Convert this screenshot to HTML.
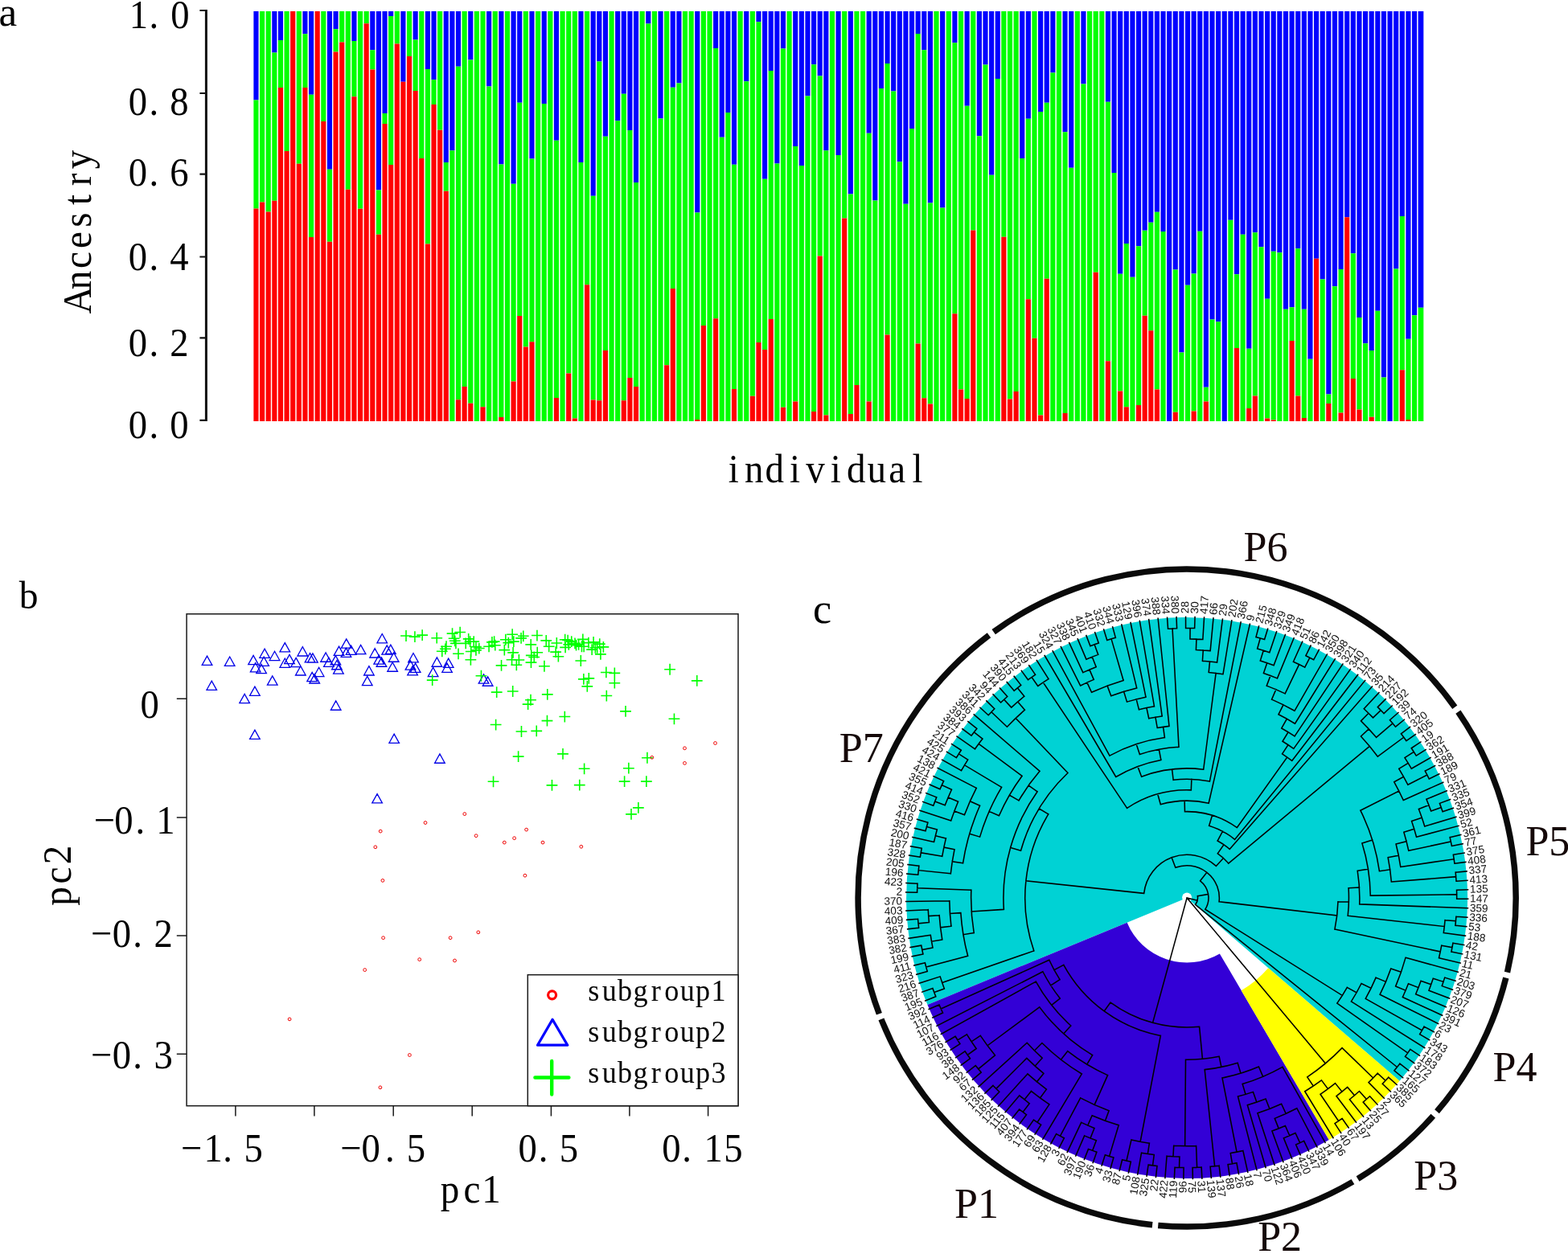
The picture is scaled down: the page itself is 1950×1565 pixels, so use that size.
<!DOCTYPE html>
<html lang="en"><head><meta charset="utf-8"><title>Population structure: ancestry, PCA and phylogenetic tree</title>
<style>html,body{margin:0;padding:0;background:#fff}body{width:1950px;height:1565px;overflow:hidden}svg{display:block}text{white-space:pre}</style></head><body>
<svg xmlns="http://www.w3.org/2000/svg" width="1950" height="1565" viewBox="0 0 1950 1565">
<rect width="1950" height="1565" fill="#fff"/>
<g id="panel-a">
<g shape-rendering="auto">
<path fill="#0000ff" d="M315.4 13.9h6.15V124.42h-6.15zM338.27 13.9h6.15V65.41h-6.15zM345.89 13.9h6.15V50.11h-6.15zM376.38 13.9h6.15V42.31h-6.15zM384 13.9h6.15V117.72h-6.15zM406.86 13.9h6.15V210.74h-6.15zM414.49 13.9h6.15V36.3h-6.15zM437.35 13.9h6.15V50.91h-6.15zM460.22 13.9h6.15V62.21h-6.15zM467.84 13.9h6.15V236.44h-6.15zM475.46 13.9h6.15V141.02h-6.15zM483.08 13.9h6.15V19.9h-6.15zM498.33 13.9h6.15V101.72h-6.15zM513.57 13.9h6.15V49.61h-6.15zM528.82 13.9h6.15V86.11h-6.15zM536.44 13.9h6.15V99.22h-6.15zM551.68 13.9h6.15V201.94h-6.15zM559.3 13.9h6.15V187.23h-6.15zM566.93 13.9h6.15V82.71h-6.15zM582.17 13.9h6.15V74.41h-6.15zM605.04 13.9h6.15V107.42h-6.15zM620.28 13.9h6.15V204.54h-6.15zM635.52 13.9h6.15V228.84h-6.15zM643.15 13.9h6.15V127.72h-6.15zM658.39 13.9h6.15V197.44h-6.15zM673.63 13.9h6.15V128.92h-6.15zM688.88 13.9h6.15V174.63h-6.15zM719.37 13.9h6.15V201.94h-6.15zM734.61 13.9h6.15V243.85h-6.15zM742.23 13.9h6.15V76.51h-6.15zM749.85 13.9h6.15V169.83h-6.15zM765.1 13.9h6.15V150.13h-6.15zM772.72 13.9h6.15V116.82h-6.15zM780.34 13.9h6.15V162.03h-6.15zM787.96 13.9h6.15V226.94h-6.15zM803.21 13.9h6.15V29.4h-6.15zM818.45 13.9h6.15V147.43h-6.15zM833.7 13.9h6.15V108.72h-6.15zM841.32 13.9h6.15V103.62h-6.15zM864.18 13.9h6.15V264.45h-6.15zM887.05 13.9h6.15V59.91h-6.15zM894.67 13.9h6.15V170.83h-6.15zM902.29 13.9h6.15V140.12h-6.15zM909.92 13.9h6.15V204.64h-6.15zM925.16 13.9h6.15V101.32h-6.15zM940.4 13.9h6.15V27.3h-6.15zM948.03 13.9h6.15V222.64h-6.15zM955.65 13.9h6.15V88.01h-6.15zM963.27 13.9h6.15V203.44h-6.15zM970.89 13.9h6.15V60.61h-6.15zM986.14 13.9h6.15V181.93h-6.15zM993.76 13.9h6.15V206.04h-6.15zM1001.38 13.9h6.15V119.62h-6.15zM1009 13.9h6.15V80.31h-6.15zM1016.62 13.9h6.15V94.62h-6.15zM1024.25 13.9h6.15V187.23h-6.15zM1039.49 13.9h6.15V192.94h-6.15zM1054.73 13.9h6.15V241.44h-6.15zM1077.6 13.9h6.15V165.63h-6.15zM1085.22 13.9h6.15V249.55h-6.15zM1092.84 13.9h6.15V109.92h-6.15zM1100.47 13.9h6.15V79.11h-6.15zM1108.09 13.9h6.15V113.42h-6.15zM1115.71 13.9h6.15V201.34h-6.15zM1123.33 13.9h6.15V253.65h-6.15zM1130.95 13.9h6.15V159.93h-6.15zM1138.58 13.9h6.15V42.01h-6.15zM1146.2 13.9h6.15V62.21h-6.15zM1153.82 13.9h6.15V252.45h-6.15zM1169.06 13.9h6.15V258.45h-6.15zM1184.31 13.9h6.15V53.21h-6.15zM1199.55 13.9h6.15V131.72h-6.15zM1214.8 13.9h6.15V169.13h-6.15zM1222.42 13.9h6.15V80.41h-6.15zM1230.04 13.9h6.15V217.74h-6.15zM1237.66 13.9h6.15V97.92h-6.15zM1268.15 13.9h6.15V196.94h-6.15zM1275.77 13.9h6.15V147.73h-6.15zM1291.02 13.9h6.15V138.92h-6.15zM1298.64 13.9h6.15V127.72h-6.15zM1306.26 13.9h6.15V90.42h-6.15zM1321.5 13.9h6.15V164.33h-6.15zM1329.13 13.9h6.15V208.84h-6.15zM1344.37 13.9h6.15V104.62h-6.15zM1374.86 13.9h6.15V126.72h-6.15zM1382.48 13.9h6.15V215.04h-6.15zM1390.1 13.9h6.15V340.86h-6.15zM1397.72 13.9h6.15V303.06h-6.15zM1405.35 13.9h6.15V344.66h-6.15zM1412.97 13.9h6.15V306.36h-6.15zM1420.59 13.9h6.15V286.85h-6.15zM1428.21 13.9h6.15V276.85h-6.15zM1435.83 13.9h6.15V263.75h-6.15zM1443.46 13.9h6.15V288.05h-6.15zM1451.08 13.9h6.15V524h-6.15zM1458.7 13.9h6.15V335.46h-6.15zM1466.32 13.9h6.15V438.48h-6.15zM1473.94 13.9h6.15V354.87h-6.15zM1481.57 13.9h6.15V340.46h-6.15zM1489.19 13.9h6.15V287.75h-6.15zM1496.81 13.9h6.15V481.79h-6.15zM1504.43 13.9h6.15V397.48h-6.15zM1512.05 13.9h6.15V400.18h-6.15zM1519.68 13.9h6.15V524h-6.15zM1527.3 13.9h6.15V273.75h-6.15zM1534.92 13.9h6.15V341.16h-6.15zM1542.54 13.9h6.15V291.85h-6.15zM1550.16 13.9h6.15V433.68h-6.15zM1557.79 13.9h6.15V289.25h-6.15zM1565.41 13.9h6.15V307.26h-6.15zM1573.03 13.9h6.15V371.77h-6.15zM1580.65 13.9h6.15V312.76h-6.15zM1588.27 13.9h6.15V314.16h-6.15zM1595.9 13.9h6.15V384.67h-6.15zM1603.52 13.9h6.15V382.27h-6.15zM1611.14 13.9h6.15V309.16h-6.15zM1618.76 13.9h6.15V384.67h-6.15zM1626.38 13.9h6.15V446.78h-6.15zM1634.01 13.9h6.15V321.86h-6.15zM1641.63 13.9h6.15V347.57h-6.15zM1649.25 13.9h6.15V490.39h-6.15zM1656.87 13.9h6.15V356.37h-6.15zM1664.49 13.9h6.15V334.96h-6.15zM1672.12 13.9h6.15V270.25h-6.15zM1679.74 13.9h6.15V315.16h-6.15zM1687.36 13.9h6.15V394.97h-6.15zM1694.98 13.9h6.15V427.28h-6.15zM1702.6 13.9h6.15V435.88h-6.15zM1710.23 13.9h6.15V386.77h-6.15zM1717.85 13.9h6.15V469.59h-6.15zM1725.47 13.9h6.15V524h-6.15zM1733.09 13.9h6.15V334.46h-6.15zM1740.71 13.9h6.15V268.95h-6.15zM1748.34 13.9h6.15V421.78h-6.15zM1755.96 13.9h6.15V392.27h-6.15zM1763.58 13.9h6.75V382.77h-6.75z"/>
<path fill="#00ff00" d="M315.4 124.42h6.15V259.55h-6.15zM323.02 13.9h6.15V251.45h-6.15zM330.64 13.9h6.15V263.55h-6.15zM338.27 65.41h6.15V249.65h-6.15zM345.89 50.11h6.15V108.92h-6.15zM353.51 13.9h6.15V187.93h-6.15zM368.75 13.9h6.15V203.64h-6.15zM376.38 42.31h6.15V108.92h-6.15zM384 117.72h6.15V294.96h-6.15zM399.24 13.9h6.15V151.03h-6.15zM406.86 210.74h6.15V300.66h-6.15zM414.49 36.3h6.15V64.41h-6.15zM422.11 13.9h6.15V52.51h-6.15zM429.73 13.9h6.15V235.74h-6.15zM437.35 50.91h6.15V120.32h-6.15zM444.97 13.9h6.15V259.65h-6.15zM452.6 13.9h6.15V29.2h-6.15zM460.22 62.21h6.15V86.51h-6.15zM467.84 236.44h6.15V291.65h-6.15zM475.46 141.02h6.15V153.93h-6.15zM483.08 19.9h6.15V204.94h-6.15zM490.71 13.9h6.15V54.41h-6.15zM505.95 13.9h6.15V70.11h-6.15zM513.57 49.61h6.15V113.02h-6.15zM521.19 13.9h6.15V196.94h-6.15zM528.82 86.11h6.15V303.46h-6.15zM536.44 99.22h6.15V130.12h-6.15zM544.06 13.9h6.15V161.73h-6.15zM551.68 201.94h6.15V237.74h-6.15zM559.3 187.23h6.15V524h-6.15zM566.93 82.71h6.15V497.19h-6.15zM574.55 13.9h6.15V480.89h-6.15zM582.17 74.41h6.15V501.8h-6.15zM589.79 13.9h6.15V524h-6.15zM597.41 13.9h6.15V506.3h-6.15zM605.04 107.42h6.15V524h-6.15zM612.66 13.9h6.15V524h-6.15zM620.28 204.54h6.15V519h-6.15zM627.9 13.9h6.15V524h-6.15zM635.52 228.84h6.15V474.39h-6.15zM643.15 127.72h6.15V392.97h-6.15zM650.77 13.9h6.15V431.58h-6.15zM658.39 197.44h6.15V425.18h-6.15zM666.01 13.9h6.15V524h-6.15zM673.63 128.92h6.15V524h-6.15zM681.26 13.9h6.15V524h-6.15zM688.88 174.63h6.15V494.89h-6.15zM696.5 13.9h6.15V524h-6.15zM704.12 13.9h6.15V464.59h-6.15zM711.74 13.9h6.15V520.6h-6.15zM719.37 201.94h6.15V524h-6.15zM726.99 13.9h6.15V354.17h-6.15zM734.61 243.85h6.15V497.49h-6.15zM742.23 76.51h6.15V498.19h-6.15zM749.85 169.83h6.15V436.08h-6.15zM757.48 13.9h6.15V524h-6.15zM765.1 150.13h6.15V524h-6.15zM772.72 116.82h6.15V498.19h-6.15zM780.34 162.03h6.15V469.89h-6.15zM787.96 226.94h6.15V480.89h-6.15zM795.59 13.9h6.15V524h-6.15zM803.21 29.4h6.15V524h-6.15zM810.83 13.9h6.15V524h-6.15zM818.45 147.43h6.15V524h-6.15zM826.07 13.9h6.15V454.19h-6.15zM833.7 108.72h6.15V358.97h-6.15zM841.32 103.62h6.15V524h-6.15zM848.94 13.9h6.15V524h-6.15zM856.56 13.9h6.15V524h-6.15zM864.18 264.45h6.15V522h-6.15zM871.81 13.9h6.15V404.88h-6.15zM879.43 13.9h6.15V524h-6.15zM887.05 59.91h6.15V396.27h-6.15zM894.67 170.83h6.15V524h-6.15zM902.29 140.12h6.15V524h-6.15zM909.92 204.64h6.15V483.89h-6.15zM917.54 13.9h6.15V524h-6.15zM925.16 101.32h6.15V524h-6.15zM932.78 13.9h6.15V492.69h-6.15zM940.4 27.3h6.15V426.08h-6.15zM948.03 222.64h6.15V434.88h-6.15zM955.65 88.01h6.15V397.08h-6.15zM963.27 203.44h6.15V524h-6.15zM970.89 60.61h6.15V506.8h-6.15zM978.51 13.9h6.15V524h-6.15zM986.14 181.93h6.15V499.4h-6.15zM993.76 206.04h6.15V524h-6.15zM1001.38 119.62h6.15V524h-6.15zM1009 80.31h6.15V512h-6.15zM1016.62 94.62h6.15V318.56h-6.15zM1024.25 187.23h6.15V516.6h-6.15zM1031.87 13.9h6.15V524h-6.15zM1039.49 192.94h6.15V524h-6.15zM1047.11 13.9h6.15V271.55h-6.15zM1054.73 241.44h6.15V514.9h-6.15zM1062.36 13.9h6.15V478.89h-6.15zM1069.98 13.9h6.15V524h-6.15zM1077.6 165.63h6.15V499.4h-6.15zM1085.22 249.55h6.15V524h-6.15zM1092.84 109.92h6.15V524h-6.15zM1100.47 79.11h6.15V416.38h-6.15zM1108.09 113.42h6.15V524h-6.15zM1115.71 201.34h6.15V524h-6.15zM1123.33 253.65h6.15V524h-6.15zM1130.95 159.93h6.15V524h-6.15zM1138.58 42.01h6.15V427.58h-6.15zM1146.2 62.21h6.15V495.29h-6.15zM1153.82 252.45h6.15V502.5h-6.15zM1161.44 13.9h6.15V524h-6.15zM1169.06 258.45h6.15V524h-6.15zM1176.69 13.9h6.15V524h-6.15zM1184.31 53.21h6.15V390.17h-6.15zM1191.93 13.9h6.15V484.59h-6.15zM1199.55 131.72h6.15V496.09h-6.15zM1207.17 13.9h6.15V286.55h-6.15zM1214.8 169.13h6.15V524h-6.15zM1222.42 80.41h6.15V524h-6.15zM1230.04 217.74h6.15V524h-6.15zM1237.66 97.92h6.15V524h-6.15zM1245.28 13.9h6.15V294.76h-6.15zM1252.91 13.9h6.15V496.49h-6.15zM1260.53 13.9h6.15V487.09h-6.15zM1268.15 196.94h6.15V524h-6.15zM1275.77 147.73h6.15V372.27h-6.15zM1283.39 13.9h6.15V420.68h-6.15zM1291.02 138.92h6.15V516.6h-6.15zM1298.64 127.72h6.15V346.87h-6.15zM1306.26 90.42h6.15V524h-6.15zM1313.88 13.9h6.15V524h-6.15zM1321.5 164.33h6.15V514h-6.15zM1329.13 208.84h6.15V524h-6.15zM1336.75 13.9h6.15V524h-6.15zM1344.37 104.62h6.15V524h-6.15zM1351.99 13.9h6.15V524h-6.15zM1359.61 13.9h6.15V338.76h-6.15zM1367.24 13.9h6.15V524h-6.15zM1374.86 126.72h6.15V449.19h-6.15zM1382.48 215.04h6.15V524h-6.15zM1390.1 340.86h6.15V486.59h-6.15zM1397.72 303.06h6.15V506.3h-6.15zM1405.35 344.66h6.15V524h-6.15zM1412.97 306.36h6.15V504h-6.15zM1420.59 286.85h6.15V392.77h-6.15zM1428.21 276.85h6.15V411.28h-6.15zM1435.83 263.75h6.15V484.39h-6.15zM1443.46 288.05h6.15V524h-6.15zM1458.7 335.46h6.15V512.8h-6.15zM1466.32 438.48h6.15V524h-6.15zM1473.94 354.87h6.15V524h-6.15zM1481.57 340.46h6.15V511.5h-6.15zM1489.19 287.75h6.15V524h-6.15zM1496.81 481.79h6.15V499.6h-6.15zM1504.43 397.48h6.15V524h-6.15zM1512.05 400.18h6.15V524h-6.15zM1527.3 273.75h6.15V524h-6.15zM1534.92 341.16h6.15V432.98h-6.15zM1542.54 291.85h6.15V524h-6.15zM1550.16 433.68h6.15V508h-6.15zM1557.79 289.25h6.15V492.49h-6.15zM1565.41 307.26h6.15V524h-6.15zM1573.03 371.77h6.15V520.4h-6.15zM1580.65 312.76h6.15V522.5h-6.15zM1588.27 314.16h6.15V524h-6.15zM1595.9 384.67h6.15V524h-6.15zM1603.52 382.27h6.15V423.98h-6.15zM1611.14 309.16h6.15V492.49h-6.15zM1618.76 384.67h6.15V520h-6.15zM1626.38 446.78h6.15V524h-6.15zM1641.63 347.57h6.15V524h-6.15zM1649.25 490.39h6.15V502h-6.15zM1656.87 356.37h6.15V524h-6.15zM1664.49 334.96h6.15V513.5h-6.15zM1679.74 315.16h6.15V471.09h-6.15zM1687.36 394.97h6.15V509.4h-6.15zM1694.98 427.28h6.15V524h-6.15zM1702.6 435.88h6.15V518.7h-6.15zM1710.23 386.77h6.15V524h-6.15zM1717.85 469.59h6.15V524h-6.15zM1733.09 334.46h6.15V524h-6.15zM1740.71 268.95h6.15V460.19h-6.15zM1748.34 421.78h6.15V522h-6.15zM1755.96 392.27h6.15V524h-6.15zM1763.58 382.77h6.75V524h-6.75z"/>
<path fill="#ff0000" d="M315.4 259.55h6.15V524h-6.15zM323.02 251.45h6.15V524h-6.15zM330.64 263.55h6.15V524h-6.15zM338.27 249.65h6.15V524h-6.15zM345.89 108.92h6.15V524h-6.15zM353.51 187.93h6.15V524h-6.15zM361.13 13.9h6.15V524h-6.15zM368.75 203.64h6.15V524h-6.15zM376.38 108.92h6.15V524h-6.15zM384 294.96h6.15V524h-6.15zM391.62 13.9h6.15V524h-6.15zM399.24 151.03h6.15V524h-6.15zM406.86 300.66h6.15V524h-6.15zM414.49 64.41h6.15V524h-6.15zM422.11 52.51h6.15V524h-6.15zM429.73 235.74h6.15V524h-6.15zM437.35 120.32h6.15V524h-6.15zM444.97 259.65h6.15V524h-6.15zM452.6 29.2h6.15V524h-6.15zM460.22 86.51h6.15V524h-6.15zM467.84 291.65h6.15V524h-6.15zM475.46 153.93h6.15V524h-6.15zM483.08 204.94h6.15V524h-6.15zM490.71 54.41h6.15V524h-6.15zM498.33 101.72h6.15V524h-6.15zM505.95 70.11h6.15V524h-6.15zM513.57 113.02h6.15V524h-6.15zM521.19 196.94h6.15V524h-6.15zM528.82 303.46h6.15V524h-6.15zM536.44 130.12h6.15V524h-6.15zM544.06 161.73h6.15V524h-6.15zM551.68 237.74h6.15V524h-6.15zM566.93 497.19h6.15V524h-6.15zM574.55 480.89h6.15V524h-6.15zM582.17 501.8h6.15V524h-6.15zM597.41 506.3h6.15V524h-6.15zM620.28 519h6.15V524h-6.15zM635.52 474.39h6.15V524h-6.15zM643.15 392.97h6.15V524h-6.15zM650.77 431.58h6.15V524h-6.15zM658.39 425.18h6.15V524h-6.15zM688.88 494.89h6.15V524h-6.15zM704.12 464.59h6.15V524h-6.15zM711.74 520.6h6.15V524h-6.15zM726.99 354.17h6.15V524h-6.15zM734.61 497.49h6.15V524h-6.15zM742.23 498.19h6.15V524h-6.15zM749.85 436.08h6.15V524h-6.15zM772.72 498.19h6.15V524h-6.15zM780.34 469.89h6.15V524h-6.15zM787.96 480.89h6.15V524h-6.15zM826.07 454.19h6.15V524h-6.15zM833.7 358.97h6.15V524h-6.15zM864.18 522h6.15V524h-6.15zM871.81 404.88h6.15V524h-6.15zM887.05 396.27h6.15V524h-6.15zM909.92 483.89h6.15V524h-6.15zM932.78 492.69h6.15V524h-6.15zM940.4 426.08h6.15V524h-6.15zM948.03 434.88h6.15V524h-6.15zM955.65 397.08h6.15V524h-6.15zM970.89 506.8h6.15V524h-6.15zM986.14 499.4h6.15V524h-6.15zM1009 512h6.15V524h-6.15zM1016.62 318.56h6.15V524h-6.15zM1024.25 516.6h6.15V524h-6.15zM1047.11 271.55h6.15V524h-6.15zM1054.73 514.9h6.15V524h-6.15zM1062.36 478.89h6.15V524h-6.15zM1077.6 499.4h6.15V524h-6.15zM1100.47 416.38h6.15V524h-6.15zM1138.58 427.58h6.15V524h-6.15zM1146.2 495.29h6.15V524h-6.15zM1153.82 502.5h6.15V524h-6.15zM1184.31 390.17h6.15V524h-6.15zM1191.93 484.59h6.15V524h-6.15zM1199.55 496.09h6.15V524h-6.15zM1207.17 286.55h6.15V524h-6.15zM1245.28 294.76h6.15V524h-6.15zM1252.91 496.49h6.15V524h-6.15zM1260.53 487.09h6.15V524h-6.15zM1275.77 372.27h6.15V524h-6.15zM1283.39 420.68h6.15V524h-6.15zM1291.02 516.6h6.15V524h-6.15zM1298.64 346.87h6.15V524h-6.15zM1321.5 514h6.15V524h-6.15zM1359.61 338.76h6.15V524h-6.15zM1374.86 449.19h6.15V524h-6.15zM1390.1 486.59h6.15V524h-6.15zM1397.72 506.3h6.15V524h-6.15zM1412.97 504h6.15V524h-6.15zM1420.59 392.77h6.15V524h-6.15zM1428.21 411.28h6.15V524h-6.15zM1435.83 484.39h6.15V524h-6.15zM1458.7 512.8h6.15V524h-6.15zM1481.57 511.5h6.15V524h-6.15zM1496.81 499.6h6.15V524h-6.15zM1534.92 432.98h6.15V524h-6.15zM1550.16 508h6.15V524h-6.15zM1557.79 492.49h6.15V524h-6.15zM1573.03 520.4h6.15V524h-6.15zM1580.65 522.5h6.15V524h-6.15zM1603.52 423.98h6.15V524h-6.15zM1611.14 492.49h6.15V524h-6.15zM1618.76 520h6.15V524h-6.15zM1634.01 321.86h6.15V524h-6.15zM1649.25 502h6.15V524h-6.15zM1664.49 513.5h6.15V524h-6.15zM1672.12 270.25h6.15V524h-6.15zM1679.74 471.09h6.15V524h-6.15zM1687.36 509.4h6.15V524h-6.15zM1702.6 518.7h6.15V524h-6.15zM1740.71 460.19h6.15V524h-6.15zM1748.34 522h6.15V524h-6.15z"/>
</g>
<path d="M256.4 12V523.9" stroke="#111" stroke-width="3" fill="none"/>
<path d="M248.4 13H257M248.4 116H257M248.4 216.7H257M248.4 319.5H257M248.4 420.3H257M248.4 522.9H257" stroke="#111" stroke-width="2.2" fill="none"/>
<text transform="scale(0.9250 1)" x="186.49 206.81 242.16" y="35.4" font-family="'Liberation Serif','Noto Serif CJK SC',serif" font-size="50.5" text-anchor="middle" fill="#000" >1.0</text>
<text transform="scale(0.9250 1)" x="185.41 206.81 241.08" y="143.4" font-family="'Liberation Serif','Noto Serif CJK SC',serif" font-size="50.5" text-anchor="middle" fill="#000" >0.8</text>
<text transform="scale(0.9250 1)" x="185.41 206.81 241.08" y="231.5" font-family="'Liberation Serif','Noto Serif CJK SC',serif" font-size="50.5" text-anchor="middle" fill="#000" >0.6</text>
<text transform="scale(0.9250 1)" x="185.41 206.81 241.08" y="335.8" font-family="'Liberation Serif','Noto Serif CJK SC',serif" font-size="50.5" text-anchor="middle" fill="#000" >0.4</text>
<text transform="scale(0.9250 1)" x="185.41 206.81 241.08" y="443.2" font-family="'Liberation Serif','Noto Serif CJK SC',serif" font-size="50.5" text-anchor="middle" fill="#000" >0.2</text>
<text transform="scale(0.9250 1)" x="185.41 206.81 241.08" y="544.6" font-family="'Liberation Serif','Noto Serif CJK SC',serif" font-size="50.5" text-anchor="middle" fill="#000" >0.0</text>
<text transform="rotate(-90) scale(0.9400 1)" x="-397.34 -370.74 -344.15 -317.55 -290.96 -264.36 -237.77 -211.17" y="113.2" font-family="'Liberation Serif','Noto Serif CJK SC',serif" font-size="50" text-anchor="middle" fill="#000">Ancestry</text>
<text transform="scale(0.9400 1)" x="970.53 997.57 1024.62 1051.66 1078.7 1105.74 1132.79 1159.83 1186.87 1213.91" y="600.2" font-family="'Liberation Serif','Noto Serif CJK SC',serif" font-size="50" text-anchor="middle" fill="#000" >individual</text>
<text x="-1.5" y="32.2" font-family="'Liberation Serif','Noto Serif CJK SC',serif" font-size="51" fill="#000">a</text>
</g>
<g id="panel-b">
<rect x="232.1" y="763.8" width="685.9" height="611.9" fill="none" stroke="#1a1a1a" stroke-width="1.5"/>
<path d="M219.8 869.2H232.1M219.8 1016.9H232.1M219.8 1164H232.1M219.8 1311.2H232.1M292.9 1375.7V1388.6M390.9 1375.7V1388.6M489.2 1375.7V1388.6M587.2 1375.7V1388.6M685.4 1375.7V1388.6M782.9 1375.7V1388.6M880.6 1375.7V1388.6" stroke="#1a1a1a" stroke-width="1.5" fill="none"/>
<text transform="scale(0.9250 1)" x="201.3" y="893.2" font-family="'Liberation Serif','Noto Serif CJK SC',serif" font-size="50.5" text-anchor="middle" fill="#000" >0</text>
<text transform="scale(0.9250 1)" x="140.43 166.27 188.43 222.7" y="1037.2" font-family="'Liberation Serif','Noto Serif CJK SC',serif" font-size="50.5" text-anchor="middle" fill="#000" >−0.1</text>
<text transform="scale(0.9250 1)" x="136.43 163.68 184.86 219.57" y="1178.4" font-family="'Liberation Serif','Noto Serif CJK SC',serif" font-size="50.5" text-anchor="middle" fill="#000" >−0.2</text>
<text transform="scale(0.9250 1)" x="136.43 163.68 184.86 219.57" y="1328.6" font-family="'Liberation Serif','Noto Serif CJK SC',serif" font-size="50.5" text-anchor="middle" fill="#000" >−0.3</text>
<text transform="scale(0.9250 1)" x="257.51 286.7 305.95 340.65" y="1444.6" font-family="'Liberation Serif','Noto Serif CJK SC',serif" font-size="50.5" text-anchor="middle" fill="#000" >−1.5</text>
<text transform="scale(0.9250 1)" x="471.89 498.59 524.11 559.35" y="1444.6" font-family="'Liberation Serif','Noto Serif CJK SC',serif" font-size="50.5" text-anchor="middle" fill="#000" >−0.5</text>
<text transform="scale(0.9250 1)" x="709.3 730.27 764.86" y="1444.6" font-family="'Liberation Serif','Noto Serif CJK SC',serif" font-size="50.5" text-anchor="middle" fill="#000" >0.5</text>
<text transform="scale(0.9250 1)" x="902.7 923.24 959.14 985.84" y="1444.6" font-family="'Liberation Serif','Noto Serif CJK SC',serif" font-size="50.5" text-anchor="middle" fill="#000" >0.15</text>
<text transform="scale(0.9400 1)" x="595.32 624.36 650" y="1496.3" font-family="'Liberation Serif','Noto Serif CJK SC',serif" font-size="50" text-anchor="middle" fill="#000" >pc1</text>
<text transform="rotate(-90) scale(0.9400 1)" x="-1186.17 -1158.51 -1131.49" y="88.1" font-family="'Liberation Serif','Noto Serif CJK SC',serif" font-size="50" text-anchor="middle" fill="#000">pc2</text>
<text x="23.8" y="757.0" font-family="'Liberation Serif','Noto Serif CJK SC',serif" font-size="47.5" fill="#000">b</text>
<path d="M251.24 827.38L257.54 816.08L263.84 827.38zM279.39 828.31L285.69 817.01L291.99 828.31zM256.93 858.46L263.23 847.16L269.53 858.46zM308.78 826.62L315.08 815.32L321.38 826.62zM311.39 835.85L317.69 824.55L323.99 835.85zM318.78 837.69L325.08 826.39L331.38 837.69zM322.78 818.46L329.08 807.16L335.38 818.46zM321.85 828.46L328.15 817.16L334.45 828.46zM335.24 821.54L341.54 810.24L347.84 821.54zM348.01 810.92L354.31 799.62L360.61 810.92zM348.01 830.31L354.31 819.01L360.61 830.31zM353.7 825.69L360 814.39L366.3 825.69zM361.85 829.69L368.15 818.39L374.45 829.69zM370.01 816L376.31 804.7L382.61 816zM367.55 840L373.85 828.7L380.15 840zM379.24 823.85L385.54 812.55L391.84 823.85zM382.62 824.15L388.92 812.85L395.22 824.15zM332.47 852.15L338.77 840.85L345.07 852.15zM310.62 865.38L316.92 854.08L323.22 865.38zM297.85 874.62L304.15 863.32L310.45 874.62zM381.85 847.69L388.15 836.39L394.45 847.69zM384.93 850L391.23 838.7L397.53 850zM390.32 841.54L396.62 830.24L402.92 841.54zM398.78 823.23L405.08 811.93L411.38 823.23zM402.62 829.38L408.92 818.08L415.22 829.38zM411.08 826.92L417.38 815.62L423.68 826.92zM412.62 832.77L418.92 821.47L425.22 832.77zM414.62 838.15L420.92 826.85L427.22 838.15zM415.24 815.38L421.54 804.08L427.84 815.38zM424.47 806.15L430.77 794.85L437.07 806.15zM424.16 817.38L430.46 806.08L436.76 817.38zM430.32 814.31L436.62 803.01L442.92 814.31zM442.32 813.69L448.62 802.39L454.92 813.69zM411.39 883.23L417.69 871.93L423.99 883.23zM459.85 818L466.15 806.7L472.45 818zM468.93 799.85L475.23 788.55L481.53 799.85zM464.93 826.15L471.23 814.85L477.53 826.15zM468.16 829.23L474.46 817.93L480.76 829.23zM474.93 814.15L481.23 802.85L487.53 814.15zM479.55 813.38L485.85 802.08L492.15 813.38zM483.39 823.23L489.69 811.93L495.99 823.23zM481.85 835.23L488.15 823.93L494.45 835.23zM452.62 840L458.92 828.7L465.22 840zM450.47 852.62L456.77 841.32L463.07 852.62zM507.7 823.85L514 812.55L520.3 823.85zM504.16 833.08L510.46 821.78L516.76 833.08zM510.32 836.46L516.62 825.16L522.92 836.46zM506.78 839.85L513.08 828.55L519.38 839.85zM310.62 919.38L316.92 908.08L323.22 919.38zM483.85 924.46L490.15 913.16L496.45 924.46zM462.78 998.92L469.08 987.62L475.38 998.92zM537.08 829.23L543.38 817.93L549.68 829.23zM551.39 830.46L557.69 819.16L563.99 830.46zM549.7 836.46L556 825.16L562.3 836.46zM532.32 841.69L538.62 830.39L544.92 841.69zM595.24 850.15L601.54 838.85L607.84 850.15zM600.32 853.23L606.62 841.93L612.92 853.23zM540.62 949.23L546.92 937.93L553.22 949.23z" fill="none" stroke="#0000e6" stroke-width="1.3" stroke-linejoin="miter"/>
<path d="M578.48 820.77h13.8M585.38 813.87v13.8M530.79 846.15h13.8M537.69 839.25v13.8M591.56 840.77h13.8M598.46 833.87v13.8M616.64 827.85h13.8M623.54 820.95v13.8M635.41 827.23h13.8M642.31 820.33v13.8M653.56 824.15h13.8M660.46 817.25v13.8M670.02 828.77h13.8M676.92 821.87v13.8M715.41 822h13.8M722.31 815.1v13.8M746.95 836.46h13.8M753.85 829.56v13.8M757.41 837.38h13.8M764.31 830.48v13.8M718.95 844.92h13.8M725.85 838.02v13.8M725.41 843.85h13.8M732.31 836.95v13.8M723.41 853.85h13.8M730.31 846.95v13.8M757.41 849.69h13.8M764.31 842.79v13.8M747.41 865.54h13.8M754.31 858.64v13.8M610.79 861.08h13.8M617.69 854.18v13.8M630.79 860h13.8M637.69 853.1v13.8M673.87 863.85h13.8M680.77 856.95v13.8M653.1 870.77h13.8M660 863.87v13.8M649.72 876.15h13.8M656.62 869.25v13.8M771.1 884.92h13.8M778 878.02v13.8M695.41 891.54h13.8M702.31 884.64v13.8M673.56 896.62h13.8M680.46 889.72v13.8M609.72 901.54h13.8M616.62 894.64v13.8M641.56 910h13.8M648.46 903.1v13.8M660.33 909.38h13.8M667.23 902.48v13.8M637.72 941.08h13.8M644.62 934.18v13.8M693.1 937.85h13.8M700 930.95v13.8M719.72 956.31h13.8M726.62 949.41v13.8M774.95 955.69h13.8M781.85 948.79v13.8M606.64 972.31h13.8M613.54 965.41v13.8M679.56 976.92h13.8M686.46 970.02v13.8M713.87 976.62h13.8M720.77 969.72v13.8M769.72 972.15h13.8M776.62 965.25v13.8M498.1 791h13.8M505 784.1v13.8M509.02 792.08h13.8M515.92 785.18v13.8M518.25 790.15h13.8M525.15 783.25v13.8M536.33 793.69h13.8M543.23 786.79v13.8M555.64 788.08h13.8M562.54 781.18v13.8M565.25 786.54h13.8M572.15 779.64v13.8M557.72 794.23h13.8M564.62 787.33v13.8M558.87 797.31h13.8M565.77 790.41v13.8M560.02 800.38h13.8M566.92 793.48v13.8M548.1 804.23h13.8M555 797.33v13.8M546.95 807.31h13.8M553.85 800.41v13.8M542.87 810.23h13.8M549.77 803.33v13.8M575.79 794.85h13.8M582.69 787.95v13.8M577.72 798.08h13.8M584.62 791.18v13.8M572.33 800.38h13.8M579.23 793.48v13.8M582.33 798.08h13.8M589.23 791.18v13.8M585.02 804.62h13.8M591.92 797.72v13.8M588.87 806.54h13.8M595.77 799.64v13.8M563.1 813.31h13.8M570 806.41v13.8M578.87 810.54h13.8M585.77 803.64v13.8M585.02 808.85h13.8M591.92 801.95v13.8M601.18 804.23h13.8M608.08 797.33v13.8M605.02 798.85h13.8M611.92 791.95v13.8M607.72 798.08h13.8M614.62 791.18v13.8M608.87 802.69h13.8M615.77 795.79v13.8M620.41 808.62h13.8M627.31 801.72v13.8M621.95 795.77h13.8M628.85 788.87v13.8M625.41 799.62h13.8M632.31 792.72v13.8M630.25 789.23h13.8M637.15 782.33v13.8M631.95 798.08h13.8M638.85 791.18v13.8M631.18 811.92h13.8M638.08 805.02v13.8M629.64 820.77h13.8M636.54 813.87v13.8M641.18 793.85h13.8M648.08 786.95v13.8M643.87 791.31h13.8M650.77 784.41v13.8M661.02 790.54h13.8M667.92 783.64v13.8M653.33 801.92h13.8M660.23 795.02v13.8M672.33 796.92h13.8M679.23 790.02v13.8M675.79 804.23h13.8M682.69 797.33v13.8M685.41 800h13.8M692.31 793.1v13.8M684.25 811.15h13.8M691.15 804.25v13.8M687.48 816.69h13.8M694.38 809.79v13.8M638.48 821h13.8M645.38 814.1v13.8M653.87 815.38h13.8M660.77 808.48v13.8M657.33 817.46h13.8M664.23 810.56v13.8M661.33 811.77h13.8M668.23 804.87v13.8M695.79 795.77h13.8M702.69 788.87v13.8M699.25 796.54h13.8M706.15 789.64v13.8M696.18 805.38h13.8M703.08 798.48v13.8M700.41 801.92h13.8M707.31 795.02v13.8M703.87 798.08h13.8M710.77 791.18v13.8M708.1 800.38h13.8M715 793.48v13.8M709.64 802.69h13.8M716.54 795.79v13.8M712.72 801.92h13.8M719.62 795.02v13.8M716.56 804.23h13.8M723.46 797.33v13.8M717.95 795.38h13.8M724.85 788.48v13.8M719.25 804.23h13.8M726.15 797.33v13.8M725.02 799.62h13.8M731.92 792.72v13.8M729.25 808.08h13.8M736.15 801.18v13.8M731.18 798.85h13.8M738.08 791.95v13.8M733.48 805.77h13.8M740.38 798.87v13.8M735.79 805.77h13.8M742.69 798.87v13.8M738.87 801.15h13.8M745.77 794.25v13.8M740.02 813.85h13.8M746.92 806.95v13.8M743.48 804.85h13.8M750.38 797.95v13.8M826.18 832.77h13.8M833.08 825.87v13.8M859.87 846.92h13.8M866.77 840.02v13.8M831.56 894.31h13.8M838.46 887.41v13.8M798.02 942.77h13.8M804.92 935.87v13.8M796.95 972.15h13.8M803.85 965.25v13.8M786.95 1004.92h13.8M793.85 998.02v13.8M778.1 1012.9h13.8M785 1006v13.8" fill="none" stroke="#00ff00" stroke-width="1.6"/>
<circle cx="810.8" cy="942.3" r="1.9" fill="none" stroke="#f00000" stroke-width="1"/>
<circle cx="851.5" cy="930.8" r="1.9" fill="none" stroke="#f00000" stroke-width="1"/>
<circle cx="851.5" cy="949.4" r="1.9" fill="none" stroke="#f00000" stroke-width="1"/>
<circle cx="889.5" cy="924.5" r="1.9" fill="none" stroke="#f00000" stroke-width="1"/>
<circle cx="577.8" cy="1012.6" r="1.9" fill="none" stroke="#f00000" stroke-width="1"/>
<circle cx="529" cy="1023.5" r="1.9" fill="none" stroke="#f00000" stroke-width="1"/>
<circle cx="473.2" cy="1034.1" r="1.9" fill="none" stroke="#f00000" stroke-width="1"/>
<circle cx="466.8" cy="1053.8" r="1.9" fill="none" stroke="#f00000" stroke-width="1"/>
<circle cx="592.1" cy="1039.7" r="1.9" fill="none" stroke="#f00000" stroke-width="1"/>
<circle cx="627.3" cy="1048.1" r="1.9" fill="none" stroke="#f00000" stroke-width="1"/>
<circle cx="639.6" cy="1042.7" r="1.9" fill="none" stroke="#f00000" stroke-width="1"/>
<circle cx="654.6" cy="1032.1" r="1.9" fill="none" stroke="#f00000" stroke-width="1"/>
<circle cx="675" cy="1048.1" r="1.9" fill="none" stroke="#f00000" stroke-width="1"/>
<circle cx="722.8" cy="1053.3" r="1.9" fill="none" stroke="#f00000" stroke-width="1"/>
<circle cx="652.9" cy="1089.2" r="1.9" fill="none" stroke="#f00000" stroke-width="1"/>
<circle cx="475.9" cy="1095.4" r="1.9" fill="none" stroke="#f00000" stroke-width="1"/>
<circle cx="476.6" cy="1166.7" r="1.9" fill="none" stroke="#f00000" stroke-width="1"/>
<circle cx="560.1" cy="1166.7" r="1.9" fill="none" stroke="#f00000" stroke-width="1"/>
<circle cx="594.8" cy="1159.8" r="1.9" fill="none" stroke="#f00000" stroke-width="1"/>
<circle cx="521.7" cy="1193.6" r="1.9" fill="none" stroke="#f00000" stroke-width="1"/>
<circle cx="565.5" cy="1195" r="1.9" fill="none" stroke="#f00000" stroke-width="1"/>
<circle cx="453.7" cy="1206.6" r="1.9" fill="none" stroke="#f00000" stroke-width="1"/>
<circle cx="509.4" cy="1312.5" r="1.9" fill="none" stroke="#f00000" stroke-width="1"/>
<circle cx="472.9" cy="1352.8" r="1.9" fill="none" stroke="#f00000" stroke-width="1"/>
<circle cx="360.1" cy="1267.9" r="1.9" fill="none" stroke="#f00000" stroke-width="1"/>
<rect x="656.3" y="1212.7" width="261.7" height="163" fill="#fff" stroke="#1a1a1a" stroke-width="1.5"/>
<circle cx="686.6" cy="1237.8" r="5" fill="none" stroke="#ff0000" stroke-width="3.2"/>
<path d="M668.5 1300.2L687.1 1268.3L705.8 1300.2z" fill="none" stroke="#0000ff" stroke-width="3.2" stroke-linejoin="round"/>
<path d="M665.4 1340.5H707.4M686.2 1320V1361.5" fill="none" stroke="#00ff00" stroke-width="4.4" stroke-linecap="round"/>
<text transform="scale(0.9400 1)" x="785.43 806.06 826.7 847.34 867.98 888.62 909.26 929.89 950.53" y="1245.2" font-family="'Liberation Serif','Noto Serif CJK SC',serif" font-size="38.5" text-anchor="middle" fill="#000" >subgroup1</text>
<text transform="scale(0.9400 1)" x="785.43 806.06 826.7 847.34 867.98 888.62 909.26 929.89 950.53" y="1295.7" font-family="'Liberation Serif','Noto Serif CJK SC',serif" font-size="38.5" text-anchor="middle" fill="#000" >subgroup2</text>
<text transform="scale(0.9400 1)" x="785.43 806.06 826.7 847.34 867.98 888.62 909.26 929.89 950.53" y="1347.4" font-family="'Liberation Serif','Noto Serif CJK SC',serif" font-size="38.5" text-anchor="middle" fill="#000" >subgroup3</text>
</g>
<g id="panel-c">
<path d="M1476.1 1117L1153.43 1249.99A349.0 349.0 0 1 1 1740.53 1344.77z" fill="#00d2d4"/>
<path d="M1652.76 1417.99A349.0 349.0 0 0 1 1153.43 1249.99L1401.67 1147.68A80.5 80.5 0 0 0 1516.85 1186.43z" fill="#3300d6"/>
<path d="M1740.53 1344.77A349.0 349.0 0 0 1 1652.76 1417.99L1543.68 1232.13A133.5 133.5 0 0 0 1577.25 1204.13z" fill="#ffff00"/>
<circle cx="1476.1" cy="1116.4" r="6" fill="#fff"/>
<path d="M1726.71 1340.17A335.58 335.58 0 0 1 1719.24 1348.29M1737.18 1349.5L1726.71 1340.17M1729.4 1357.96L1719.24 1348.29M1713.13 1335.17A322.15 322.15 0 0 1 1702.08 1346.6M1723.01 1344.26L1713.13 1335.17M1721.33 1366.16L1702.08 1346.6M1703.5 1363.78A335.58 335.58 0 0 1 1695.26 1371.12M1713.01 1374.09L1703.5 1363.78M1704.42 1381.74L1695.26 1371.12M1690.48 1357.47A322.15 322.15 0 0 1 1678.36 1367.75M1699.41 1367.48L1690.48 1357.47M1695.59 1389.11L1678.36 1367.75M1675.8 1352.44A308.73 308.73 0 0 1 1661.92 1363.54M1684.48 1362.68L1675.8 1352.44M1686.52 1396.18L1661.92 1363.54M1669.16 1391.48A335.58 335.58 0 0 1 1660.03 1397.68M1677.23 1402.95L1669.16 1391.48M1667.71 1409.41L1660.03 1397.68M1660.56 1347.61A295.31 295.31 0 0 1 1642 1361.3M1668.94 1358.09L1660.56 1347.61M1664.62 1394.62L1642 1361.3M1643.44 1343.84A281.88 281.88 0 0 1 1622.76 1357.73M1651.41 1354.64L1643.44 1343.84M1657.99 1415.56L1622.76 1357.73M1669.08 1303.63A268.46 268.46 0 0 1 1625.77 1339.87M1707.68 1340.95L1669.08 1303.63M1633.26 1351.01L1625.77 1339.87M1621.61 1419.39A335.58 335.58 0 0 1 1611.59 1424.01M1627.69 1432.02L1621.61 1419.39M1617.25 1436.84L1611.59 1424.01M1611 1409.55A322.15 322.15 0 0 1 1596.4 1415.85M1616.62 1421.74L1611 1409.55M1606.65 1441.31L1596.4 1415.85M1598.42 1400.46A308.73 308.73 0 0 1 1581.91 1407.03M1603.74 1412.79L1598.42 1400.46M1595.92 1445.43L1581.91 1407.03M1612.83 1378.75A295.31 295.31 0 0 1 1585.25 1391.4M1637.97 1426.87L1612.83 1378.75M1590.21 1403.87L1585.25 1391.4M1593.61 1373.22A281.88 281.88 0 0 1 1563.95 1384.85M1599.2 1385.42L1593.61 1373.22M1585.05 1449.19L1563.95 1384.85M1574.04 1366.96A268.46 268.46 0 0 1 1551.33 1374.71M1578.94 1379.45L1574.04 1366.96M1574.06 1452.59L1551.33 1374.71M1558.44 1358.38A255.04 255.04 0 0 1 1539.48 1364.04M1562.77 1371.09L1558.44 1358.38M1562.97 1455.63L1539.48 1364.04M1594.96 1327.36A241.62 241.62 0 0 1 1545.17 1348.53M1648.07 1421.38L1594.96 1327.36M1549.01 1361.39L1545.17 1348.53M1537.94 1446.83A335.58 335.58 0 0 1 1527.06 1448.69M1540.52 1460.61L1537.94 1446.83M1529.19 1462.55L1527.06 1448.69M1545.85 1431.51A322.15 322.15 0 0 1 1530.25 1434.57M1551.79 1458.31L1545.85 1431.51M1532.5 1447.8L1530.25 1434.57M1565.41 1326.99A228.19 228.19 0 0 1 1519.99 1340.93M1570.66 1339.34L1565.41 1326.99M1538.07 1433.14L1519.99 1340.93M1516.12 1450.18A335.58 335.58 0 0 1 1505.14 1451.32M1517.79 1464.11L1516.12 1450.18M1506.35 1465.29L1505.14 1451.32M1539.12 1322.31A214.77 214.77 0 0 1 1498.2 1330.63M1543.06 1335.15L1539.12 1322.31M1510.63 1450.8L1498.2 1330.63M1494.13 1452.09A335.58 335.58 0 0 1 1483.1 1452.5M1494.88 1466.1L1494.13 1452.09M1483.39 1466.52L1483.1 1452.5M1472.06 1452.55A335.58 335.58 0 0 1 1461.02 1452.24M1471.89 1466.57L1472.06 1452.55M1460.39 1466.25L1461.02 1452.24M1466.92 1439.02A322.15 322.15 0 0 1 1451.05 1438.18M1466.54 1452.44L1466.92 1439.02M1448.92 1465.54L1451.05 1438.18M1487.61 1425.52A308.73 308.73 0 0 1 1459.69 1425.29M1488.61 1452.34L1487.61 1425.52M1458.98 1438.7L1459.69 1425.29M1516.19 1314.31A201.35 201.35 0 0 1 1474.5 1318.34M1518.87 1327.47L1516.19 1314.31M1473.65 1425.72L1474.5 1318.34M1439.02 1450.52A335.58 335.58 0 0 1 1428.07 1449.12M1437.47 1464.46L1439.02 1450.52M1426.06 1463L1428.07 1449.12M1435.24 1436.55A322.15 322.15 0 0 1 1419.53 1434.15M1433.54 1449.87L1435.24 1436.55M1414.71 1461.17L1419.53 1434.15M1406.34 1445.25A335.58 335.58 0 0 1 1395.58 1442.77M1403.42 1458.96L1406.34 1445.25M1392.21 1456.39L1395.58 1442.77M1429.4 1422.18A308.73 308.73 0 0 1 1406.96 1417.89M1427.37 1435.45L1429.4 1422.18M1400.95 1444.05L1406.96 1417.89M1384.91 1439.95A335.58 335.58 0 0 1 1374.33 1436.77M1381.1 1453.44L1384.91 1439.95M1370.08 1450.14L1374.33 1436.77M1363.87 1433.25A335.58 335.58 0 0 1 1353.53 1429.39M1359.18 1446.47L1363.87 1433.25M1348.41 1442.45L1353.53 1429.39M1363.38 1418.79A322.15 322.15 0 0 1 1348.63 1412.86M1358.69 1431.37L1363.38 1418.79M1337.77 1438.07L1348.63 1412.86M1360.98 1403.46A308.73 308.73 0 0 1 1344.69 1396.37M1355.97 1415.92L1360.98 1403.46M1327.29 1433.35L1344.69 1396.37M1391.19 1399.84A295.31 295.31 0 0 1 1358.14 1387.73M1379.61 1438.4L1391.19 1399.84M1352.78 1400.03L1358.14 1387.73M1323.35 1415.8A335.58 335.58 0 0 1 1313.6 1410.61M1316.97 1428.28L1323.35 1415.8M1306.81 1422.88L1313.6 1410.61M1379.1 1381.67A281.88 281.88 0 0 1 1343.68 1365.84M1374.48 1394.27L1379.1 1381.67M1318.45 1413.24L1343.68 1365.84M1294.65 1399.29A335.58 335.58 0 0 1 1285.47 1393.17M1287.07 1411.09L1294.65 1399.29M1277.5 1404.71L1285.47 1393.17M1276.49 1386.75A335.58 335.58 0 0 1 1267.72 1380.04M1268.14 1398.02L1276.49 1386.75M1259.01 1391.03L1267.72 1380.04M1280.24 1372.77A322.15 322.15 0 0 1 1267.86 1362.8M1272.08 1383.43L1280.24 1372.77M1250.12 1383.74L1267.86 1362.8M1304.92 1373.93A308.73 308.73 0 0 1 1282.41 1357.41M1290.03 1396.27L1304.92 1373.93M1273.99 1367.87L1282.41 1357.41M1301.42 1355.1A295.31 295.31 0 0 1 1277.91 1335.92M1293.48 1365.92L1301.42 1355.1M1241.47 1376.17L1277.91 1335.92M1242.82 1358.23A335.58 335.58 0 0 1 1235.01 1350.43M1233.07 1368.31L1242.82 1358.23M1224.94 1360.18L1235.01 1350.43M1297.9 1335.41A281.88 281.88 0 0 1 1276.84 1316.38M1289.41 1345.81L1297.9 1335.41M1238.88 1354.36L1276.84 1316.38M1296.13 1316.2A268.46 268.46 0 0 1 1277.19 1297.3M1287.13 1326.16L1296.13 1316.2M1217.07 1351.79L1277.19 1297.3M1345.33 1335.96A255.04 255.04 0 0 1 1295.91 1297.49M1296.84 1417.15L1345.33 1335.96M1286.42 1306.99L1295.91 1297.49M1377.54 1337.6A241.62 241.62 0 0 1 1327.68 1307.65M1361.12 1374.37L1377.54 1337.6M1319.43 1318.25L1327.68 1307.65M1220.19 1334.07A335.58 335.58 0 0 1 1213.18 1325.54M1209.49 1343.14L1220.19 1334.07M1202.2 1334.25L1213.18 1325.54M1206.47 1316.78A335.58 335.58 0 0 1 1200.04 1307.8M1195.2 1325.12L1206.47 1316.78M1188.51 1315.77L1200.04 1307.8M1193.92 1298.62A335.58 335.58 0 0 1 1188.1 1289.24M1182.13 1306.21L1193.92 1298.62M1176.06 1296.44L1188.1 1289.24M1214.13 1304.5A322.15 322.15 0 0 1 1202.37 1286.87M1203.22 1312.31L1214.13 1304.5M1190.97 1293.95L1202.37 1286.87M1237.41 1312.81A308.73 308.73 0 0 1 1219.28 1288.34M1216.65 1329.83L1237.41 1312.81M1208.11 1295.78L1219.28 1288.34M1358.62 1312.63A228.19 228.19 0 0 1 1292.75 1252.85M1351.71 1324.13L1358.62 1312.63M1228.04 1300.79L1292.75 1252.85M1331.76 1276.04A214.77 214.77 0 0 1 1288.25 1221.11M1322.74 1285.98L1331.76 1276.04M1170.32 1286.47L1288.25 1221.11M1318.27 1242.03A201.35 201.35 0 0 1 1296.88 1208.76M1307.75 1250.36L1318.27 1242.03M1164.91 1276.32L1296.88 1208.76M1172.53 1260.02A335.58 335.58 0 0 1 1167.99 1249.96M1159.84 1266L1172.53 1260.02M1155.11 1255.52L1167.99 1249.96M1318.05 1218.66A187.92 187.92 0 0 1 1304.81 1194.29M1306.76 1225.92L1318.05 1218.66M1170.22 1255.01L1304.81 1194.29M1443.34 1288.4A174.5 174.5 0 0 1 1322.77 1200.31M1418.14 1420.24L1443.34 1288.4M1310.98 1206.72L1322.77 1200.31M1491.58 1277.33A161.08 161.08 0 0 1 1381.08 1247.06M1495.45 1317.41L1491.58 1277.33M1373.16 1257.9L1381.08 1247.06M1163.78 1239.76A335.58 335.58 0 0 1 1159.91 1229.42M1150.73 1244.89L1163.78 1239.76M1146.7 1234.12L1159.91 1229.42M1174.38 1229.9A322.15 322.15 0 0 1 1169.18 1214.88M1161.8 1234.6L1174.38 1229.9M1143.03 1223.22L1169.18 1214.88M1153.21 1208.39A335.58 335.58 0 0 1 1150.38 1197.72M1139.71 1212.21L1153.21 1208.39M1136.76 1201.09L1150.38 1197.72M1147.9 1186.96A335.58 335.58 0 0 1 1145.77 1176.13M1134.18 1189.88L1147.9 1186.96M1131.97 1178.6L1145.77 1176.13M1159.96 1178.97A322.15 322.15 0 0 1 1157.29 1163.3M1146.79 1181.55L1159.96 1178.97M1130.13 1167.25L1157.29 1163.3M1142.6 1154.28A335.58 335.58 0 0 1 1141.55 1143.29M1128.66 1155.84L1142.6 1154.28M1127.57 1144.39L1141.55 1143.29M1155.4 1147.52A322.15 322.15 0 0 1 1154.28 1131.67M1142.03 1148.79L1155.4 1147.52M1126.86 1132.91L1154.28 1131.67M1171.76 1168.9A308.73 308.73 0 0 1 1168.13 1138.66M1158.53 1171.15L1171.76 1168.9M1154.74 1139.6L1168.13 1138.66M1182.9 1152.22A295.31 295.31 0 0 1 1180.82 1120.73M1169.57 1153.82L1182.9 1152.22M1126.53 1121.42L1180.82 1120.73M1203.64 1189.29A281.88 281.88 0 0 1 1194.83 1135.62M1151.75 1203.06L1203.64 1189.29M1181.44 1136.51L1194.83 1135.62M1140.59 1110.2A335.58 335.58 0 0 1 1141 1099.17M1126.57 1109.92L1140.59 1110.2M1126.99 1098.43L1141 1099.17M1211.19 1160.49A268.46 268.46 0 0 1 1207.82 1107.15M1197.94 1162.67L1211.19 1160.49M1140.75 1104.69L1207.82 1107.15M1141.76 1088.16A335.58 335.58 0 0 1 1142.89 1077.18M1127.79 1086.96L1141.76 1088.16M1128.97 1075.52L1142.89 1077.18M1144.38 1066.24A335.58 335.58 0 0 1 1146.23 1055.36M1130.52 1064.12L1144.38 1066.24M1132.45 1052.78L1146.23 1055.36M1151 1033.81A335.58 335.58 0 0 1 1153.91 1023.16M1137.41 1030.33L1151 1033.81M1140.45 1019.24L1153.91 1023.16M1161.55 1047.44A322.15 322.15 0 0 1 1165.36 1032.01M1134.75 1041.52L1161.55 1047.44M1152.41 1028.47L1165.36 1032.01M1171.73 1065.29A308.73 308.73 0 0 1 1176.39 1042.92M1145.26 1060.79L1171.73 1065.29M1163.36 1039.7L1176.39 1042.92M1182.34 1086.79A295.31 295.31 0 0 1 1186.99 1056.8M1142.28 1082.67L1182.34 1086.79M1173.85 1054.06L1186.99 1056.8M1160.78 1002.18A335.58 335.58 0 0 1 1164.72 991.87M1147.6 997.38L1160.78 1002.18M1151.71 986.64L1164.72 991.87M1169.01 981.7A335.58 335.58 0 0 1 1173.62 971.67M1156.18 976.04L1169.01 981.7M1160.99 965.6L1173.62 971.67M1175.24 1001.81A322.15 322.15 0 0 1 1183.47 982.28M1162.71 997.01L1175.24 1001.81M1171.28 976.66L1183.47 982.28M1182.69 1020.96A308.73 308.73 0 0 1 1191.57 997.19M1143.84 1008.25L1182.69 1020.96M1179.2 991.98L1191.57 997.19M1199.46 1013.68A295.31 295.31 0 0 1 1214.27 980.42M1186.88 1008.98L1199.46 1013.68M1166.14 955.32L1214.27 980.42M1197.55 1073.79A281.88 281.88 0 0 1 1218.61 1002.29M1184.28 1071.73L1197.55 1073.79M1206.35 996.82L1218.61 1002.29M1189.42 942.58A335.58 335.58 0 0 1 1195.31 933.24M1177.44 935.29L1189.42 942.58M1183.57 925.56L1195.31 933.24M1195.52 958.69A322.15 322.15 0 0 1 1203.67 945.05M1171.62 945.21L1195.52 958.69M1192.32 937.88L1203.67 945.05M1218.58 1041.13A268.46 268.46 0 0 1 1245.61 979.35M1205.71 1037.34L1218.58 1041.13M1199.52 951.82L1245.61 979.35M1208 915.18A335.58 335.58 0 0 1 1214.78 906.47M1196.79 906.74L1208 915.18M1203.86 897.67L1214.78 906.47M1212.49 931.82A322.15 322.15 0 0 1 1221.94 919.04M1190.03 916.04L1212.49 931.82M1211.35 910.8L1221.94 919.04M1242.45 1014.77A255.04 255.04 0 0 1 1271.09 965.3M1230.15 1009.39L1242.45 1014.77M1217.14 925.37L1271.09 965.3M1266.99 995.95A241.62 241.62 0 0 1 1293.04 959.31M1255.38 989.23L1266.99 995.95M1211.22 888.84L1293.04 959.31M1248.36 1131.37A228.19 228.19 0 0 1 1290.1 984.8M1208.17 1133.91L1248.36 1131.37M1279.16 977.03L1290.1 984.8M1229.19 889.74A335.58 335.58 0 0 1 1236.79 881.75M1218.87 880.25L1229.19 889.74M1226.79 871.92L1236.79 881.75M1244.66 874A335.58 335.58 0 0 1 1252.78 866.52M1234.99 863.85L1244.66 874M1243.45 856.05L1252.78 866.52M1261.14 859.31A335.58 335.58 0 0 1 1269.73 852.38M1252.15 848.54L1261.14 859.31M1261.11 841.32L1269.73 852.38M1257.79 880.1A322.15 322.15 0 0 1 1273.83 866.26M1248.69 870.23L1257.79 880.1M1265.4 855.81L1273.83 866.26M1252.41 904.22A308.73 308.73 0 0 1 1274.46 883.21M1232.96 885.71L1252.41 904.22M1265.7 873.05L1274.46 883.21M1269.54 1058.17A214.77 214.77 0 0 1 1327.98 961.48M1256.63 1054.5L1269.54 1058.17M1263.18 893.44L1327.98 961.48M1285.84 1182.89A201.35 201.35 0 0 1 1303.78 1012.86M1171.68 1222.42L1285.84 1182.89M1292.29 1005.92L1303.78 1012.86M1278.54 845.74A335.58 335.58 0 0 1 1287.57 839.39M1270.29 834.4L1278.54 845.74M1279.69 827.79L1287.57 839.39M1290.75 853.5A322.15 322.15 0 0 1 1303.98 844.68M1283.03 842.52L1290.75 853.5M1289.31 821.48L1303.98 844.68M1355.91 803.68A335.58 335.58 0 0 1 1366.28 799.9M1350.89 790.59L1355.91 803.68M1361.69 786.65L1366.28 799.9M1350.89 820.17A322.15 322.15 0 0 1 1365.68 814.36M1340.22 794.89L1350.89 820.17M1361.08 801.75L1365.68 814.36M1346.82 836.64A308.73 308.73 0 0 1 1363.16 829.67M1329.7 799.53L1346.82 836.64M1358.25 817.18L1363.16 829.67M1343.68 853.04A295.31 295.31 0 0 1 1360.21 845.38M1319.34 804.52L1343.68 853.04M1354.94 833.04L1360.21 845.38M1376.77 796.46A335.58 335.58 0 0 1 1387.37 793.37M1372.62 783.07L1376.77 796.46M1383.66 779.84L1387.37 793.37M1357.53 861.26A281.88 281.88 0 0 1 1397.1 846.41M1351.89 849.09L1357.53 861.26M1382.06 794.87L1397.1 846.41M1381.76 865.66A268.46 268.46 0 0 1 1413.67 855.9M1377.04 853.1L1381.76 865.66M1394.8 776.98L1413.67 855.9M1401.49 873.12A255.04 255.04 0 0 1 1424.98 867.14M1397.56 860.28L1401.49 873.12M1406.03 774.49L1424.98 867.14M1416.47 882.86A241.62 241.62 0 0 1 1435.48 878.82M1413.16 869.85L1416.47 882.86M1417.33 772.38L1435.48 878.82M1428.72 893.78A228.19 228.19 0 0 1 1445.16 890.92M1425.94 880.65L1428.72 893.78M1428.69 770.63L1445.16 890.92M1439.22 905.42A214.77 214.77 0 0 1 1453.99 903.37M1436.91 892.2L1439.22 905.42M1440.11 769.26L1453.99 903.37M1379.95 940.1A201.35 201.35 0 0 1 1448.43 917.56M1309.15 809.84L1379.95 940.1M1446.59 904.27L1448.43 917.56M1452.55 782.25A335.58 335.58 0 0 1 1463.58 781.66M1451.57 768.26L1452.55 782.25M1463.05 767.64L1463.58 781.66M1417.37 938.49A187.92 187.92 0 0 1 1466 929.35M1413.17 925.74L1417.37 938.49M1458.06 781.91L1466 929.35M1387.77 966.51A174.5 174.5 0 0 1 1443.86 945.5M1299.13 815.5L1387.77 966.51M1441.38 932.31L1443.86 945.5M1474.61 781.43A335.58 335.58 0 0 1 1485.65 781.56M1474.55 767.4L1474.61 781.43M1486.05 767.54L1485.65 781.56M1479.97 794.87A322.15 322.15 0 0 1 1495.85 795.45M1480.13 781.45L1479.97 794.87M1497.54 768.06L1495.85 795.45M1487.42 808.48A308.73 308.73 0 0 1 1505.16 809.64M1487.92 795.06L1487.42 808.48M1509 768.95L1505.16 809.64M1495.42 822.32A295.31 295.31 0 0 1 1513.55 824.08M1496.3 808.93L1495.42 822.32M1520.43 770.22L1513.55 824.08M1503.21 836.42A281.88 281.88 0 0 1 1521.02 838.72M1504.5 823.06L1503.21 836.42M1531.81 771.87L1521.02 838.72M1419.61 966.15A161.08 161.08 0 0 1 1496.69 957.24M1414.91 953.58L1419.61 966.15M1512.13 837.43L1496.69 957.24M1459.15 970.32A147.65 147.65 0 0 1 1504.41 972.09M1457.61 956.99L1459.15 970.32M1543.14 773.89L1504.41 972.09M1401.6 1005.34A134.23 134.23 0 0 1 1481.33 982.87M1297.31 849.01L1401.6 1005.34M1481.85 969.46L1481.33 982.87M1443.33 1000.72A120.81 120.81 0 0 1 1503.15 999.26M1439.69 987.8L1443.33 1000.72M1554.38 776.28L1503.15 999.26M1561.96 792.59A335.58 335.58 0 0 1 1572.58 795.59M1565.55 779.04L1561.96 792.59M1576.62 782.16L1572.58 795.59M1563.64 806.97A322.15 322.15 0 0 1 1578.82 811.66M1567.28 794.05L1563.64 806.97M1587.57 785.65L1578.82 811.66M1567.29 822.04A308.73 308.73 0 0 1 1584.11 827.78M1571.26 809.22L1567.29 822.04M1598.41 789.49L1584.11 827.78M1571.41 837.5A295.31 295.31 0 0 1 1588.46 843.9M1575.74 824.79L1571.41 837.5M1609.12 793.69L1588.46 843.9M1623.91 815.73A335.58 335.58 0 0 1 1633.74 820.75M1630.08 803.14L1623.91 815.73M1640.32 808.37L1633.74 820.75M1608.41 823.27A322.15 322.15 0 0 1 1622.73 830.15M1619.68 798.24L1608.41 823.27M1628.84 818.2L1622.73 830.15M1575.26 853.13A281.88 281.88 0 0 1 1598.17 862.92M1579.99 840.57L1575.26 853.13M1615.61 826.62L1598.17 862.92M1581.55 870.12A268.46 268.46 0 0 1 1609.94 884.28M1586.83 857.77L1581.55 870.12M1650.39 813.94L1609.94 884.28M1589.96 888.79A255.04 255.04 0 0 1 1610.45 900.22M1595.95 876.78L1589.96 888.79M1660.26 819.84L1610.45 900.22M1593.8 905.99A241.62 241.62 0 0 1 1610.06 915.92M1600.34 894.27L1593.8 905.99M1669.93 826.06L1610.06 915.92M1595.03 922.25A228.19 228.19 0 0 1 1608.8 931.36M1602.03 910.8L1595.03 922.25M1679.4 832.59L1608.8 931.36M1594.59 937.88A214.77 214.77 0 0 1 1606.67 946.48M1602 926.68L1594.59 937.88M1688.64 839.43L1606.67 946.48M1473.48 1009.65A107.38 107.38 0 0 1 1538.4 1029.54M1473.15 996.23L1473.48 1009.65M1600.71 942.07L1538.4 1029.54M1503.62 1027.16A93.96 93.96 0 0 1 1535.65 1044.32M1507.55 1014.33L1503.62 1027.16M1697.66 846.57L1535.65 1044.32M1514.13 1046.01A80.54 80.54 0 0 1 1529.16 1056.41M1520.47 1034.18L1514.13 1046.01M1706.43 854L1529.16 1056.41M1713.31 879.63A335.58 335.58 0 0 1 1720.99 887.56M1723.22 869.71L1713.31 879.63M1731.22 877.98L1720.99 887.56M1696.2 881.76A322.15 322.15 0 0 1 1707.54 892.9M1714.96 861.72L1696.2 881.76M1717.18 883.57L1707.54 892.9M1728.4 895.74A335.58 335.58 0 0 1 1735.54 904.16M1738.95 886.5L1728.4 895.74M1746.39 895.27L1735.54 904.16M1692.53 896.84A308.73 308.73 0 0 1 1711.54 917.29M1701.94 887.26L1692.53 896.84M1732.01 899.92L1711.54 917.29M1742.4 912.81A335.58 335.58 0 0 1 1748.98 921.68M1753.53 904.28L1742.4 912.81M1760.38 913.52L1748.98 921.68M1692.43 915.98A295.31 295.31 0 0 1 1713.37 941.19M1702.26 906.85L1692.43 915.98M1745.73 917.22L1713.37 941.19M1514.3 1061.82A67.12 67.12 0 0 1 1527.73 1074.11M1521.94 1050.78L1514.3 1061.82M1703.25 928.3L1527.73 1074.11M1422.7 1111.37A53.69 53.69 0 0 1 1512.37 1077.41M1275.87 1095.88L1422.7 1111.37M1521.43 1067.51L1512.37 1077.41M1755.25 930.76A335.58 335.58 0 0 1 1761.23 940.04M1766.92 922.98L1755.25 930.76M1773.14 932.65L1761.23 940.04M1746.99 942.64A322.15 322.15 0 0 1 1755.26 956.21M1758.28 935.37L1746.99 942.64M1779.04 942.52L1755.26 956.21M1772.24 959.17A335.58 335.58 0 0 1 1777.27 968.99M1784.62 952.57L1772.24 959.17M1789.86 962.81L1777.27 968.99M1739.75 956.36A308.73 308.73 0 0 1 1750.9 976.3M1751.21 949.38L1739.75 956.36M1774.8 964.06L1750.9 976.3M1733.8 972.78A295.31 295.31 0 0 1 1745.27 995.54M1745.51 966.22L1733.8 972.78M1794.76 973.21L1745.27 995.54M1790.39 999.39A335.58 335.58 0 0 1 1794.09 1009.79M1803.53 994.47L1790.39 999.39M1807.38 1005.31L1794.09 1009.79M1773.94 994.23A322.15 322.15 0 0 1 1779.64 1009.07M1799.32 983.77L1773.94 994.23M1792.28 1004.57L1779.64 1009.07M1764.35 1006.42A308.73 308.73 0 0 1 1771.74 1028.04M1776.88 1001.62L1764.35 1006.42M1810.87 1016.27L1771.74 1028.04M1755.54 1021.5A295.31 295.31 0 0 1 1761.53 1041.26M1768.24 1017.16L1755.54 1021.5M1814 1027.33L1761.53 1041.26M1803.11 1041.64A335.58 335.58 0 0 1 1805.41 1052.44M1816.77 1038.49L1803.11 1041.64M1819.17 1049.74L1805.41 1052.44M1745.86 1035.22A281.88 281.88 0 0 1 1751.79 1058.23M1758.71 1031.33L1745.86 1035.22M1804.3 1047.03L1751.79 1058.23M1807.35 1063.3A335.58 335.58 0 0 1 1808.94 1074.23M1821.2 1061.06L1807.35 1063.3M1822.85 1072.44L1808.94 1074.23M1736.07 1050.01A268.46 268.46 0 0 1 1741.77 1078.41M1749.07 1046.66L1736.07 1050.01M1808.19 1068.76L1741.77 1078.41M1810.17 1085.2A335.58 335.58 0 0 1 1811.03 1096.2M1824.13 1083.87L1810.17 1085.2M1825.03 1095.33L1811.03 1096.2M1726.14 1066.78A255.04 255.04 0 0 1 1730.35 1097.01M1739.3 1064.13L1726.14 1066.78M1810.64 1090.7L1730.35 1097.01M1691.84 1008.21A241.62 241.62 0 0 1 1715.41 1083.68M1739.78 984.04L1691.84 1008.21M1728.7 1081.83L1715.41 1083.68M1811.53 1107.23A335.58 335.58 0 0 1 1811.67 1118.27M1825.55 1106.82L1811.53 1107.23M1825.7 1118.32L1811.67 1118.27M1693.92 1048.98A228.19 228.19 0 0 1 1704.27 1114.11M1706.73 1044.98L1693.92 1048.98M1811.65 1112.75L1704.27 1114.11M1688.2 1083.27A214.77 214.77 0 0 1 1690.72 1124.87M1701.46 1081.17L1688.2 1083.27M1825.46 1129.82L1690.72 1124.87M1810.87 1140.33A335.58 335.58 0 0 1 1809.92 1151.32M1824.85 1141.3L1810.87 1140.33M1823.87 1152.76L1809.92 1151.32M1797.06 1144.68A322.15 322.15 0 0 1 1795.31 1160.47M1810.44 1145.83L1797.06 1144.68M1822.5 1164.18L1795.31 1160.47M1677.08 1104.82A201.35 201.35 0 0 1 1676.21 1139.24M1690.48 1104.01L1677.08 1104.82M1796.28 1152.59L1676.21 1139.24M1806.94 1173.2A335.58 335.58 0 0 1 1804.91 1184.05M1820.76 1175.55L1806.94 1173.2M1818.65 1186.85L1804.91 1184.05M1792.77 1176.17A322.15 322.15 0 0 1 1789.47 1191.71M1805.97 1178.63L1792.77 1176.17M1816.17 1198.08L1789.47 1191.71M1663.96 1121.71A187.92 187.92 0 0 1 1659.92 1156.06M1677.38 1122.05L1663.96 1121.71M1791.22 1183.96L1659.92 1156.06M1461.84 1079.34A40.27 40.27 0 0 1 1516.09 1121.71M1457.08 1066.79L1461.84 1079.34M1662.73 1138.98L1516.09 1121.71M1796.7 1216.12A335.58 335.58 0 0 1 1793.27 1226.61M1810.1 1220.26L1796.7 1216.12M1806.53 1231.19L1793.27 1226.61M1782.27 1217.2A322.15 322.15 0 0 1 1776.96 1232.18M1795.03 1221.38L1782.27 1217.2M1802.59 1242L1776.96 1232.18M1767.06 1220.24A308.73 308.73 0 0 1 1760.64 1236.81M1779.71 1224.73L1767.06 1220.24M1798.3 1252.67L1760.64 1236.81M1751.45 1223.72A295.31 295.31 0 0 1 1744.35 1240.49M1763.97 1228.57L1751.45 1223.72M1793.67 1263.19L1744.35 1240.49M1748 1191.36A281.88 281.88 0 0 1 1735.67 1226.92M1813.32 1209.22L1748 1191.36M1748.03 1232.16L1735.67 1226.92M1729.75 1204.95A268.46 268.46 0 0 1 1716.14 1237.22M1742.43 1209.35L1729.75 1204.95M1788.69 1273.56L1716.14 1237.22M1771.04 1277.06A335.58 335.58 0 0 1 1765.62 1286.68M1783.37 1283.75L1771.04 1277.06M1777.72 1293.77L1765.62 1286.68M1711.1 1216.09A255.04 255.04 0 0 1 1698.23 1242.32M1723.47 1221.31L1711.1 1216.09M1768.37 1281.89L1698.23 1242.32M1692.99 1223.47A241.62 241.62 0 0 1 1680.42 1245.96M1705.04 1229.39L1692.99 1223.47M1771.74 1303.59L1680.42 1245.96M1753.84 1305.35A335.58 335.58 0 0 1 1747.49 1314.38M1765.44 1313.22L1753.84 1305.35M1758.83 1322.63L1747.49 1314.38M1675.29 1228.33A228.19 228.19 0 0 1 1662.83 1248.16M1687.01 1234.88L1675.29 1228.33M1750.7 1309.89L1662.83 1248.16M1492.62 1095.84A26.85 26.85 0 0 1 1498.83 1131.28M1500.88 1085.26L1492.62 1095.84M1669.31 1238.41L1498.83 1131.28M1740.85 1323.2A335.58 335.58 0 0 1 1733.93 1331.79M1751.92 1331.81L1740.85 1323.2M1744.7 1340.77L1733.93 1331.79M1489.32 1114.68A13.42 13.42 0 0 1 1486.55 1125.42M1502.54 1112.37L1489.32 1114.68M1737.43 1327.52L1486.55 1125.42M1648.38 1322.89L1476.1 1117M1433.55 1272.35L1476.1 1117M1489.1 1120.35L1476.1 1117" fill="none" stroke="#000" stroke-width="1.55" stroke-linecap="square" stroke-linejoin="miter"/>
<g font-family="'Liberation Sans',sans-serif" font-size="13.6" fill="#111">
<text transform="translate(1738.72 1350.96) rotate(41.69)" text-anchor="start" dy="0.355em">385</text>
<text transform="translate(1730.86 1359.5) rotate(43.57)" text-anchor="start" dy="0.355em">365</text>
<text transform="translate(1722.72 1367.78) rotate(45.45)" text-anchor="start" dy="0.355em">2</text>
<text transform="translate(1714.31 1375.79) rotate(47.34)" text-anchor="start" dy="0.355em">27</text>
<text transform="translate(1705.64 1383.52) rotate(49.22)" text-anchor="start" dy="0.355em">25</text>
<text transform="translate(1696.73 1390.96) rotate(51.11)" text-anchor="start" dy="0.355em">13</text>
<text transform="translate(1687.57 1398.1) rotate(52.99)" text-anchor="start" dy="0.355em">197</text>
<text transform="translate(1678.18 1404.93) rotate(54.88)" text-anchor="start" dy="0.355em">67</text>
<text transform="translate(1668.58 1411.45) rotate(56.76)" text-anchor="start" dy="0.355em">40</text>
<text transform="translate(1658.76 1417.66) rotate(58.65)" text-anchor="start" dy="0.355em">106</text>
<text transform="translate(1648.75 1423.54) rotate(60.53)" text-anchor="start" dy="0.355em">14</text>
<text transform="translate(1638.55 1429.08) rotate(62.42)" text-anchor="start" dy="0.355em">339</text>
<text transform="translate(1628.17 1434.29) rotate(64.3)" text-anchor="start" dy="0.355em">347</text>
<text transform="translate(1617.62 1439.15) rotate(66.19)" text-anchor="start" dy="0.355em">420</text>
<text transform="translate(1606.92 1443.66) rotate(68.07)" text-anchor="start" dy="0.355em">406</text>
<text transform="translate(1596.08 1447.82) rotate(69.96)" text-anchor="start" dy="0.355em">364</text>
<text transform="translate(1585.11 1451.62) rotate(71.84)" text-anchor="start" dy="0.355em">122</text>
<text transform="translate(1574.02 1455.06) rotate(73.73)" text-anchor="start" dy="0.355em">70</text>
<text transform="translate(1562.82 1458.13) rotate(75.61)" text-anchor="start" dy="0.355em">7</text>
<text transform="translate(1551.52 1460.83) rotate(77.5)" text-anchor="start" dy="0.355em">18</text>
<text transform="translate(1540.15 1463.15) rotate(79.38)" text-anchor="start" dy="0.355em">26</text>
<text transform="translate(1528.7 1465.11) rotate(81.27)" text-anchor="start" dy="0.355em">88</text>
<text transform="translate(1517.2 1466.68) rotate(83.15)" text-anchor="start" dy="0.355em">137</text>
<text transform="translate(1505.65 1467.88) rotate(85.04)" text-anchor="start" dy="0.355em">139</text>
<text transform="translate(1494.06 1468.69) rotate(86.92)" text-anchor="start" dy="0.355em">31</text>
<text transform="translate(1482.46 1469.12) rotate(88.81)" text-anchor="start" dy="0.355em">75</text>
<text transform="translate(1470.85 1469.17) rotate(-89.31)" text-anchor="end" dy="0.355em">96</text>
<text transform="translate(1459.24 1468.84) rotate(-87.43)" text-anchor="end" dy="0.355em">119</text>
<text transform="translate(1447.65 1468.13) rotate(-85.54)" text-anchor="end" dy="0.355em">422</text>
<text transform="translate(1436.09 1467.04) rotate(-83.66)" text-anchor="end" dy="0.355em">22</text>
<text transform="translate(1424.57 1465.57) rotate(-81.77)" text-anchor="end" dy="0.355em">325</text>
<text transform="translate(1413.11 1463.71) rotate(-79.89)" text-anchor="end" dy="0.355em">108</text>
<text transform="translate(1401.71 1461.49) rotate(-78)" text-anchor="end" dy="0.355em">5</text>
<text transform="translate(1390.4 1458.89) rotate(-76.12)" text-anchor="end" dy="0.355em">87</text>
<text transform="translate(1379.17 1455.92) rotate(-74.23)" text-anchor="end" dy="0.355em">33</text>
<text transform="translate(1368.05 1452.58) rotate(-72.35)" text-anchor="end" dy="0.355em">4</text>
<text transform="translate(1357.05 1448.87) rotate(-70.46)" text-anchor="end" dy="0.355em">36</text>
<text transform="translate(1346.17 1444.81) rotate(-68.58)" text-anchor="end" dy="0.355em">190</text>
<text transform="translate(1335.43 1440.39) rotate(-66.69)" text-anchor="end" dy="0.355em">397</text>
<text transform="translate(1324.84 1435.62) rotate(-64.81)" text-anchor="end" dy="0.355em">62</text>
<text transform="translate(1314.42 1430.51) rotate(-62.92)" text-anchor="end" dy="0.355em">3</text>
<text transform="translate(1304.17 1425.05) rotate(-61.04)" text-anchor="end" dy="0.355em">128</text>
<text transform="translate(1294.1 1419.27) rotate(-59.15)" text-anchor="end" dy="0.355em">63</text>
<text transform="translate(1284.23 1413.15) rotate(-57.27)" text-anchor="end" dy="0.355em">69</text>
<text transform="translate(1274.57 1406.71) rotate(-55.38)" text-anchor="end" dy="0.355em">177</text>
<text transform="translate(1265.12 1399.96) rotate(-53.5)" text-anchor="end" dy="0.355em">394</text>
<text transform="translate(1255.9 1392.9) rotate(-51.61)" text-anchor="end" dy="0.355em">407</text>
<text transform="translate(1246.92 1385.54) rotate(-49.73)" text-anchor="end" dy="0.355em">115</text>
<text transform="translate(1238.19 1377.89) rotate(-47.84)" text-anchor="end" dy="0.355em">125</text>
<text transform="translate(1229.71 1369.95) rotate(-45.96)" text-anchor="end" dy="0.355em">185</text>
<text transform="translate(1221.49 1361.75) rotate(-44.07)" text-anchor="end" dy="0.355em">136</text>
<text transform="translate(1213.55 1353.27) rotate(-42.19)" text-anchor="end" dy="0.355em">132</text>
<text transform="translate(1205.9 1344.54) rotate(-40.31)" text-anchor="end" dy="0.355em">67</text>
<text transform="translate(1198.53 1335.56) rotate(-38.42)" text-anchor="end" dy="0.355em">92</text>
<text transform="translate(1191.47 1326.35) rotate(-36.54)" text-anchor="end" dy="0.355em">148</text>
<text transform="translate(1184.71 1316.91) rotate(-34.65)" text-anchor="end" dy="0.355em">38</text>
<text transform="translate(1178.27 1307.25) rotate(-32.77)" text-anchor="end" dy="0.355em">93</text>
<text transform="translate(1172.14 1297.38) rotate(-30.88)" text-anchor="end" dy="0.355em">376</text>
<text transform="translate(1166.35 1287.32) rotate(-29)" text-anchor="end" dy="0.355em">116</text>
<text transform="translate(1160.89 1277.07) rotate(-27.11)" text-anchor="end" dy="0.355em">107</text>
<text transform="translate(1155.77 1266.65) rotate(-25.23)" text-anchor="end" dy="0.355em">114</text>
<text transform="translate(1150.99 1256.07) rotate(-23.34)" text-anchor="end" dy="0.355em">392</text>
<text transform="translate(1146.57 1245.33) rotate(-21.46)" text-anchor="end" dy="0.355em">195</text>
<text transform="translate(1142.5 1234.45) rotate(-19.57)" text-anchor="end" dy="0.355em">387</text>
<text transform="translate(1138.79 1223.45) rotate(-17.69)" text-anchor="end" dy="0.355em">216</text>
<text transform="translate(1135.44 1212.33) rotate(-15.8)" text-anchor="end" dy="0.355em">323</text>
<text transform="translate(1132.46 1201.11) rotate(-13.92)" text-anchor="end" dy="0.355em">411</text>
<text transform="translate(1129.86 1189.79) rotate(-12.03)" text-anchor="end" dy="0.355em">199</text>
<text transform="translate(1127.62 1178.4) rotate(-10.15)" text-anchor="end" dy="0.355em">382</text>
<text transform="translate(1125.77 1166.94) rotate(-8.26)" text-anchor="end" dy="0.355em">383</text>
<text transform="translate(1124.29 1155.42) rotate(-6.38)" text-anchor="end" dy="0.355em">367</text>
<text transform="translate(1123.19 1143.86) rotate(-4.49)" text-anchor="end" dy="0.355em">409</text>
<text transform="translate(1122.47 1132.27) rotate(-2.61)" text-anchor="end" dy="0.355em">403</text>
<text transform="translate(1122.13 1120.66) rotate(-0.72)" text-anchor="end" dy="0.355em">370</text>
<text transform="translate(1122.17 1109.05) rotate(1.16)" text-anchor="end" dy="0.355em">2</text>
<text transform="translate(1122.6 1097.45) rotate(3.05)" text-anchor="end" dy="0.355em">423</text>
<text transform="translate(1123.41 1085.86) rotate(4.93)" text-anchor="end" dy="0.355em">196</text>
<text transform="translate(1124.59 1074.31) rotate(6.81)" text-anchor="end" dy="0.355em">205</text>
<text transform="translate(1126.16 1062.81) rotate(8.7)" text-anchor="end" dy="0.355em">328</text>
<text transform="translate(1128.11 1051.36) rotate(10.58)" text-anchor="end" dy="0.355em">187</text>
<text transform="translate(1130.43 1039.98) rotate(12.47)" text-anchor="end" dy="0.355em">200</text>
<text transform="translate(1133.12 1028.69) rotate(14.35)" text-anchor="end" dy="0.355em">357</text>
<text transform="translate(1136.18 1017.49) rotate(16.24)" text-anchor="end" dy="0.355em">416</text>
<text transform="translate(1139.61 1006.39) rotate(18.12)" text-anchor="end" dy="0.355em">330</text>
<text transform="translate(1143.41 995.42) rotate(20.01)" text-anchor="end" dy="0.355em">352</text>
<text transform="translate(1147.56 984.57) rotate(21.89)" text-anchor="end" dy="0.355em">414</text>
<text transform="translate(1152.06 973.87) rotate(23.78)" text-anchor="end" dy="0.355em">355</text>
<text transform="translate(1156.92 963.32) rotate(25.66)" text-anchor="end" dy="0.355em">421</text>
<text transform="translate(1162.12 952.94) rotate(27.55)" text-anchor="end" dy="0.355em">138</text>
<text transform="translate(1167.66 942.74) rotate(29.43)" text-anchor="end" dy="0.355em">424</text>
<text transform="translate(1173.53 932.72) rotate(31.32)" text-anchor="end" dy="0.355em">425</text>
<text transform="translate(1179.73 922.9) rotate(33.2)" text-anchor="end" dy="0.355em">211</text>
<text transform="translate(1186.25 913.29) rotate(35.09)" text-anchor="end" dy="0.355em">377</text>
<text transform="translate(1193.08 903.9) rotate(36.97)" text-anchor="end" dy="0.355em">384</text>
<text transform="translate(1200.21 894.74) rotate(38.86)" text-anchor="end" dy="0.355em">393</text>
<text transform="translate(1207.64 885.82) rotate(40.74)" text-anchor="end" dy="0.355em">386</text>
<text transform="translate(1215.37 877.14) rotate(42.63)" text-anchor="end" dy="0.355em">341</text>
<text transform="translate(1223.37 868.73) rotate(44.51)" text-anchor="end" dy="0.355em">342</text>
<text transform="translate(1231.64 860.59) rotate(46.4)" text-anchor="end" dy="0.355em">94</text>
<text transform="translate(1240.18 852.72) rotate(48.28)" text-anchor="end" dy="0.355em">144</text>
<text transform="translate(1248.98 845.13) rotate(50.17)" text-anchor="end" dy="0.355em">390</text>
<text transform="translate(1258.01 837.84) rotate(52.05)" text-anchor="end" dy="0.355em">415</text>
<text transform="translate(1267.29 830.85) rotate(53.93)" text-anchor="end" dy="0.355em">213</text>
<text transform="translate(1276.78 824.17) rotate(55.82)" text-anchor="end" dy="0.355em">369</text>
<text transform="translate(1286.5 817.81) rotate(57.7)" text-anchor="end" dy="0.355em">182</text>
<text transform="translate(1296.41 811.77) rotate(59.59)" text-anchor="end" dy="0.355em">15</text>
<text transform="translate(1306.52 806.05) rotate(61.47)" text-anchor="end" dy="0.355em">324</text>
<text transform="translate(1316.81 800.68) rotate(63.36)" text-anchor="end" dy="0.355em">327</text>
<text transform="translate(1327.28 795.64) rotate(65.24)" text-anchor="end" dy="0.355em">338</text>
<text transform="translate(1337.9 790.95) rotate(67.13)" text-anchor="end" dy="0.355em">345</text>
<text transform="translate(1348.67 786.62) rotate(69.01)" text-anchor="end" dy="0.355em">401</text>
<text transform="translate(1359.58 782.64) rotate(70.9)" text-anchor="end" dy="0.355em">410</text>
<text transform="translate(1370.61 779.02) rotate(72.78)" text-anchor="end" dy="0.355em">332</text>
<text transform="translate(1381.76 775.76) rotate(74.67)" text-anchor="end" dy="0.355em">344</text>
<text transform="translate(1393.01 772.88) rotate(76.55)" text-anchor="end" dy="0.355em">333</text>
<text transform="translate(1404.34 770.36) rotate(78.44)" text-anchor="end" dy="0.355em">129</text>
<text transform="translate(1415.76 768.22) rotate(80.32)" text-anchor="end" dy="0.355em">396</text>
<text transform="translate(1427.23 766.46) rotate(82.21)" text-anchor="end" dy="0.355em">374</text>
<text transform="translate(1438.76 765.08) rotate(84.09)" text-anchor="end" dy="0.355em">388</text>
<text transform="translate(1450.33 764.07) rotate(85.98)" text-anchor="end" dy="0.355em">334</text>
<text transform="translate(1461.93 763.45) rotate(87.86)" text-anchor="end" dy="0.355em">380</text>
<text transform="translate(1473.54 763.2) rotate(269.75)" text-anchor="start" dy="0.355em">28</text>
<text transform="translate(1485.15 763.34) rotate(271.63)" text-anchor="start" dy="0.355em">30</text>
<text transform="translate(1496.75 763.86) rotate(273.52)" text-anchor="start" dy="0.355em">417</text>
<text transform="translate(1508.32 764.77) rotate(275.4)" text-anchor="start" dy="0.355em">66</text>
<text transform="translate(1519.86 766.05) rotate(277.29)" text-anchor="start" dy="0.355em">29</text>
<text transform="translate(1531.36 767.71) rotate(279.17)" text-anchor="start" dy="0.355em">202</text>
<text transform="translate(1542.79 769.75) rotate(281.05)" text-anchor="start" dy="0.355em">366</text>
<text transform="translate(1554.15 772.16) rotate(282.94)" text-anchor="start" dy="0.355em">9</text>
<text transform="translate(1565.42 774.95) rotate(284.82)" text-anchor="start" dy="0.355em">215</text>
<text transform="translate(1576.59 778.1) rotate(286.71)" text-anchor="start" dy="0.355em">348</text>
<text transform="translate(1587.66 781.63) rotate(288.59)" text-anchor="start" dy="0.355em">329</text>
<text transform="translate(1598.6 785.51) rotate(290.48)" text-anchor="start" dy="0.355em">349</text>
<text transform="translate(1609.41 789.75) rotate(292.36)" text-anchor="start" dy="0.355em">418</text>
<text transform="translate(1620.07 794.34) rotate(294.25)" text-anchor="start" dy="0.355em">51</text>
<text transform="translate(1630.58 799.29) rotate(296.13)" text-anchor="start" dy="0.355em">86</text>
<text transform="translate(1640.92 804.57) rotate(298.02)" text-anchor="start" dy="0.355em">142</text>
<text transform="translate(1651.08 810.19) rotate(299.9)" text-anchor="start" dy="0.355em">350</text>
<text transform="translate(1661.05 816.15) rotate(301.79)" text-anchor="start" dy="0.355em">398</text>
<text transform="translate(1670.82 822.43) rotate(303.67)" text-anchor="start" dy="0.355em">321</text>
<text transform="translate(1680.37 829.02) rotate(305.56)" text-anchor="start" dy="0.355em">340</text>
<text transform="translate(1689.71 835.93) rotate(307.44)" text-anchor="start" dy="0.355em">112</text>
<text transform="translate(1698.81 843.14) rotate(309.33)" text-anchor="start" dy="0.355em">73</text>
<text transform="translate(1707.67 850.64) rotate(311.21)" text-anchor="start" dy="0.355em">35</text>
<text transform="translate(1716.28 858.44) rotate(313.1)" text-anchor="start" dy="0.355em">214</text>
<text transform="translate(1724.63 866.51) rotate(314.98)" text-anchor="start" dy="0.355em">227</text>
<text transform="translate(1732.7 874.85) rotate(316.87)" text-anchor="start" dy="0.355em">192</text>
<text transform="translate(1740.5 883.45) rotate(318.75)" text-anchor="start" dy="0.355em">39</text>
<text transform="translate(1748.01 892.31) rotate(320.64)" text-anchor="start" dy="0.355em">74</text>
<text transform="translate(1755.23 901.41) rotate(322.52)" text-anchor="start" dy="0.355em">320</text>
<text transform="translate(1762.14 910.74) rotate(324.41)" text-anchor="start" dy="0.355em">405</text>
<text transform="translate(1768.75 920.29) rotate(326.29)" text-anchor="start" dy="0.355em">19</text>
<text transform="translate(1775.03 930.05) rotate(328.17)" text-anchor="start" dy="0.355em">362</text>
<text transform="translate(1780.99 940.02) rotate(330.06)" text-anchor="start" dy="0.355em">191</text>
<text transform="translate(1786.62 950.17) rotate(331.94)" text-anchor="start" dy="0.355em">388</text>
<text transform="translate(1791.91 960.51) rotate(333.83)" text-anchor="start" dy="0.355em">189</text>
<text transform="translate(1796.86 971.01) rotate(335.71)" text-anchor="start" dy="0.355em">79</text>
<text transform="translate(1801.46 981.68) rotate(337.6)" text-anchor="start" dy="0.355em">331</text>
<text transform="translate(1805.71 992.48) rotate(339.48)" text-anchor="start" dy="0.355em">335</text>
<text transform="translate(1809.6 1003.42) rotate(341.37)" text-anchor="start" dy="0.355em">354</text>
<text transform="translate(1813.13 1014.49) rotate(343.25)" text-anchor="start" dy="0.355em">399</text>
<text transform="translate(1816.29 1025.66) rotate(345.14)" text-anchor="start" dy="0.355em">52</text>
<text transform="translate(1819.08 1036.93) rotate(347.02)" text-anchor="start" dy="0.355em">361</text>
<text transform="translate(1821.51 1048.29) rotate(348.91)" text-anchor="start" dy="0.355em">77</text>
<text transform="translate(1823.55 1059.72) rotate(350.79)" text-anchor="start" dy="0.355em">375</text>
<text transform="translate(1825.22 1071.21) rotate(352.68)" text-anchor="start" dy="0.355em">408</text>
<text transform="translate(1826.51 1082.75) rotate(354.56)" text-anchor="start" dy="0.355em">337</text>
<text transform="translate(1827.42 1094.32) rotate(356.45)" text-anchor="start" dy="0.355em">413</text>
<text transform="translate(1827.95 1105.92) rotate(358.33)" text-anchor="start" dy="0.355em">135</text>
<text transform="translate(1828.1 1117.53) rotate(0.22)" text-anchor="start" dy="0.355em">147</text>
<text transform="translate(1827.86 1129.14) rotate(2.1)" text-anchor="start" dy="0.355em">359</text>
<text transform="translate(1827.25 1140.74) rotate(3.99)" text-anchor="start" dy="0.355em">336</text>
<text transform="translate(1826.25 1152.31) rotate(5.87)" text-anchor="start" dy="0.355em">53</text>
<text transform="translate(1824.87 1163.84) rotate(7.76)" text-anchor="start" dy="0.355em">188</text>
<text transform="translate(1823.12 1175.31) rotate(9.64)" text-anchor="start" dy="0.355em">42</text>
<text transform="translate(1820.98 1186.73) rotate(11.53)" text-anchor="start" dy="0.355em">131</text>
<text transform="translate(1818.48 1198.07) rotate(13.41)" text-anchor="start" dy="0.355em">11</text>
<text transform="translate(1815.6 1209.32) rotate(15.29)" text-anchor="start" dy="0.355em">21</text>
<text transform="translate(1812.35 1220.46) rotate(17.18)" text-anchor="start" dy="0.355em">203</text>
<text transform="translate(1808.74 1231.5) rotate(19.06)" text-anchor="start" dy="0.355em">379</text>
<text transform="translate(1804.77 1242.41) rotate(20.95)" text-anchor="start" dy="0.355em">207</text>
<text transform="translate(1800.44 1253.19) rotate(22.83)" text-anchor="start" dy="0.355em">126</text>
<text transform="translate(1795.75 1263.81) rotate(24.72)" text-anchor="start" dy="0.355em">391</text>
<text transform="translate(1790.73 1274.28) rotate(26.6)" text-anchor="start" dy="0.355em">23</text>
<text transform="translate(1785.36 1284.57) rotate(28.49)" text-anchor="start" dy="0.355em">6</text>
<text transform="translate(1779.65 1294.69) rotate(30.37)" text-anchor="start" dy="0.355em">343</text>
<text transform="translate(1773.62 1304.61) rotate(32.26)" text-anchor="start" dy="0.355em">178</text>
<text transform="translate(1767.26 1314.32) rotate(34.14)" text-anchor="start" dy="0.355em">183</text>
<text transform="translate(1760.58 1323.83) rotate(36.03)" text-anchor="start" dy="0.355em">372</text>
<text transform="translate(1753.6 1333.1) rotate(37.91)" text-anchor="start" dy="0.355em">127</text>
<text transform="translate(1746.32 1342.15) rotate(39.8)" text-anchor="start" dy="0.355em">165</text>
</g>
<path d="M1872.81 1216.5A409.0 409.0 0 0 1 1786.97 1382.79M1782.28 1388.17A409.0 409.0 0 0 1 1688.58 1466.47M1682.45 1470.13A409.0 409.0 0 0 1 1440.24 1524.42M1433.13 1523.74A409.0 409.0 0 0 1 1095.95 1267.89M1093.38 1261.24A409.0 409.0 0 0 1 1229.96 790.36M1235.7 786.11A409.0 409.0 0 0 1 1809.28 879.78M1813.37 885.63A409.0 409.0 0 0 1 1874.49 1209.56" fill="none" stroke="#0a0a0a" stroke-width="7.5"/>
<text x="1546.6" y="697.9" font-family="'Liberation Serif','Noto Serif CJK SC',serif" font-size="52" fill="#150808">P6</text>
<text x="1043.8" y="948.2" font-family="'Liberation Serif','Noto Serif CJK SC',serif" font-size="52" fill="#150808">P7</text>
<text x="1897.4" y="1063.9" font-family="'Liberation Serif','Noto Serif CJK SC',serif" font-size="52" fill="#150808">P5</text>
<text x="1856.5" y="1344.5" font-family="'Liberation Serif','Noto Serif CJK SC',serif" font-size="52" fill="#150808">P4</text>
<text x="1758.3" y="1480.2" font-family="'Liberation Serif','Noto Serif CJK SC',serif" font-size="52" fill="#150808">P3</text>
<text x="1564.2" y="1556.2" font-family="'Liberation Serif','Noto Serif CJK SC',serif" font-size="52" fill="#150808">P2</text>
<text x="1187.1" y="1515.2" font-family="'Liberation Serif','Noto Serif CJK SC',serif" font-size="52" fill="#150808">P1</text>
<text x="1011" y="774.8" font-family="'Liberation Serif','Noto Serif CJK SC',serif" font-size="52" fill="#000">c</text>
</g>
</svg></body></html>
